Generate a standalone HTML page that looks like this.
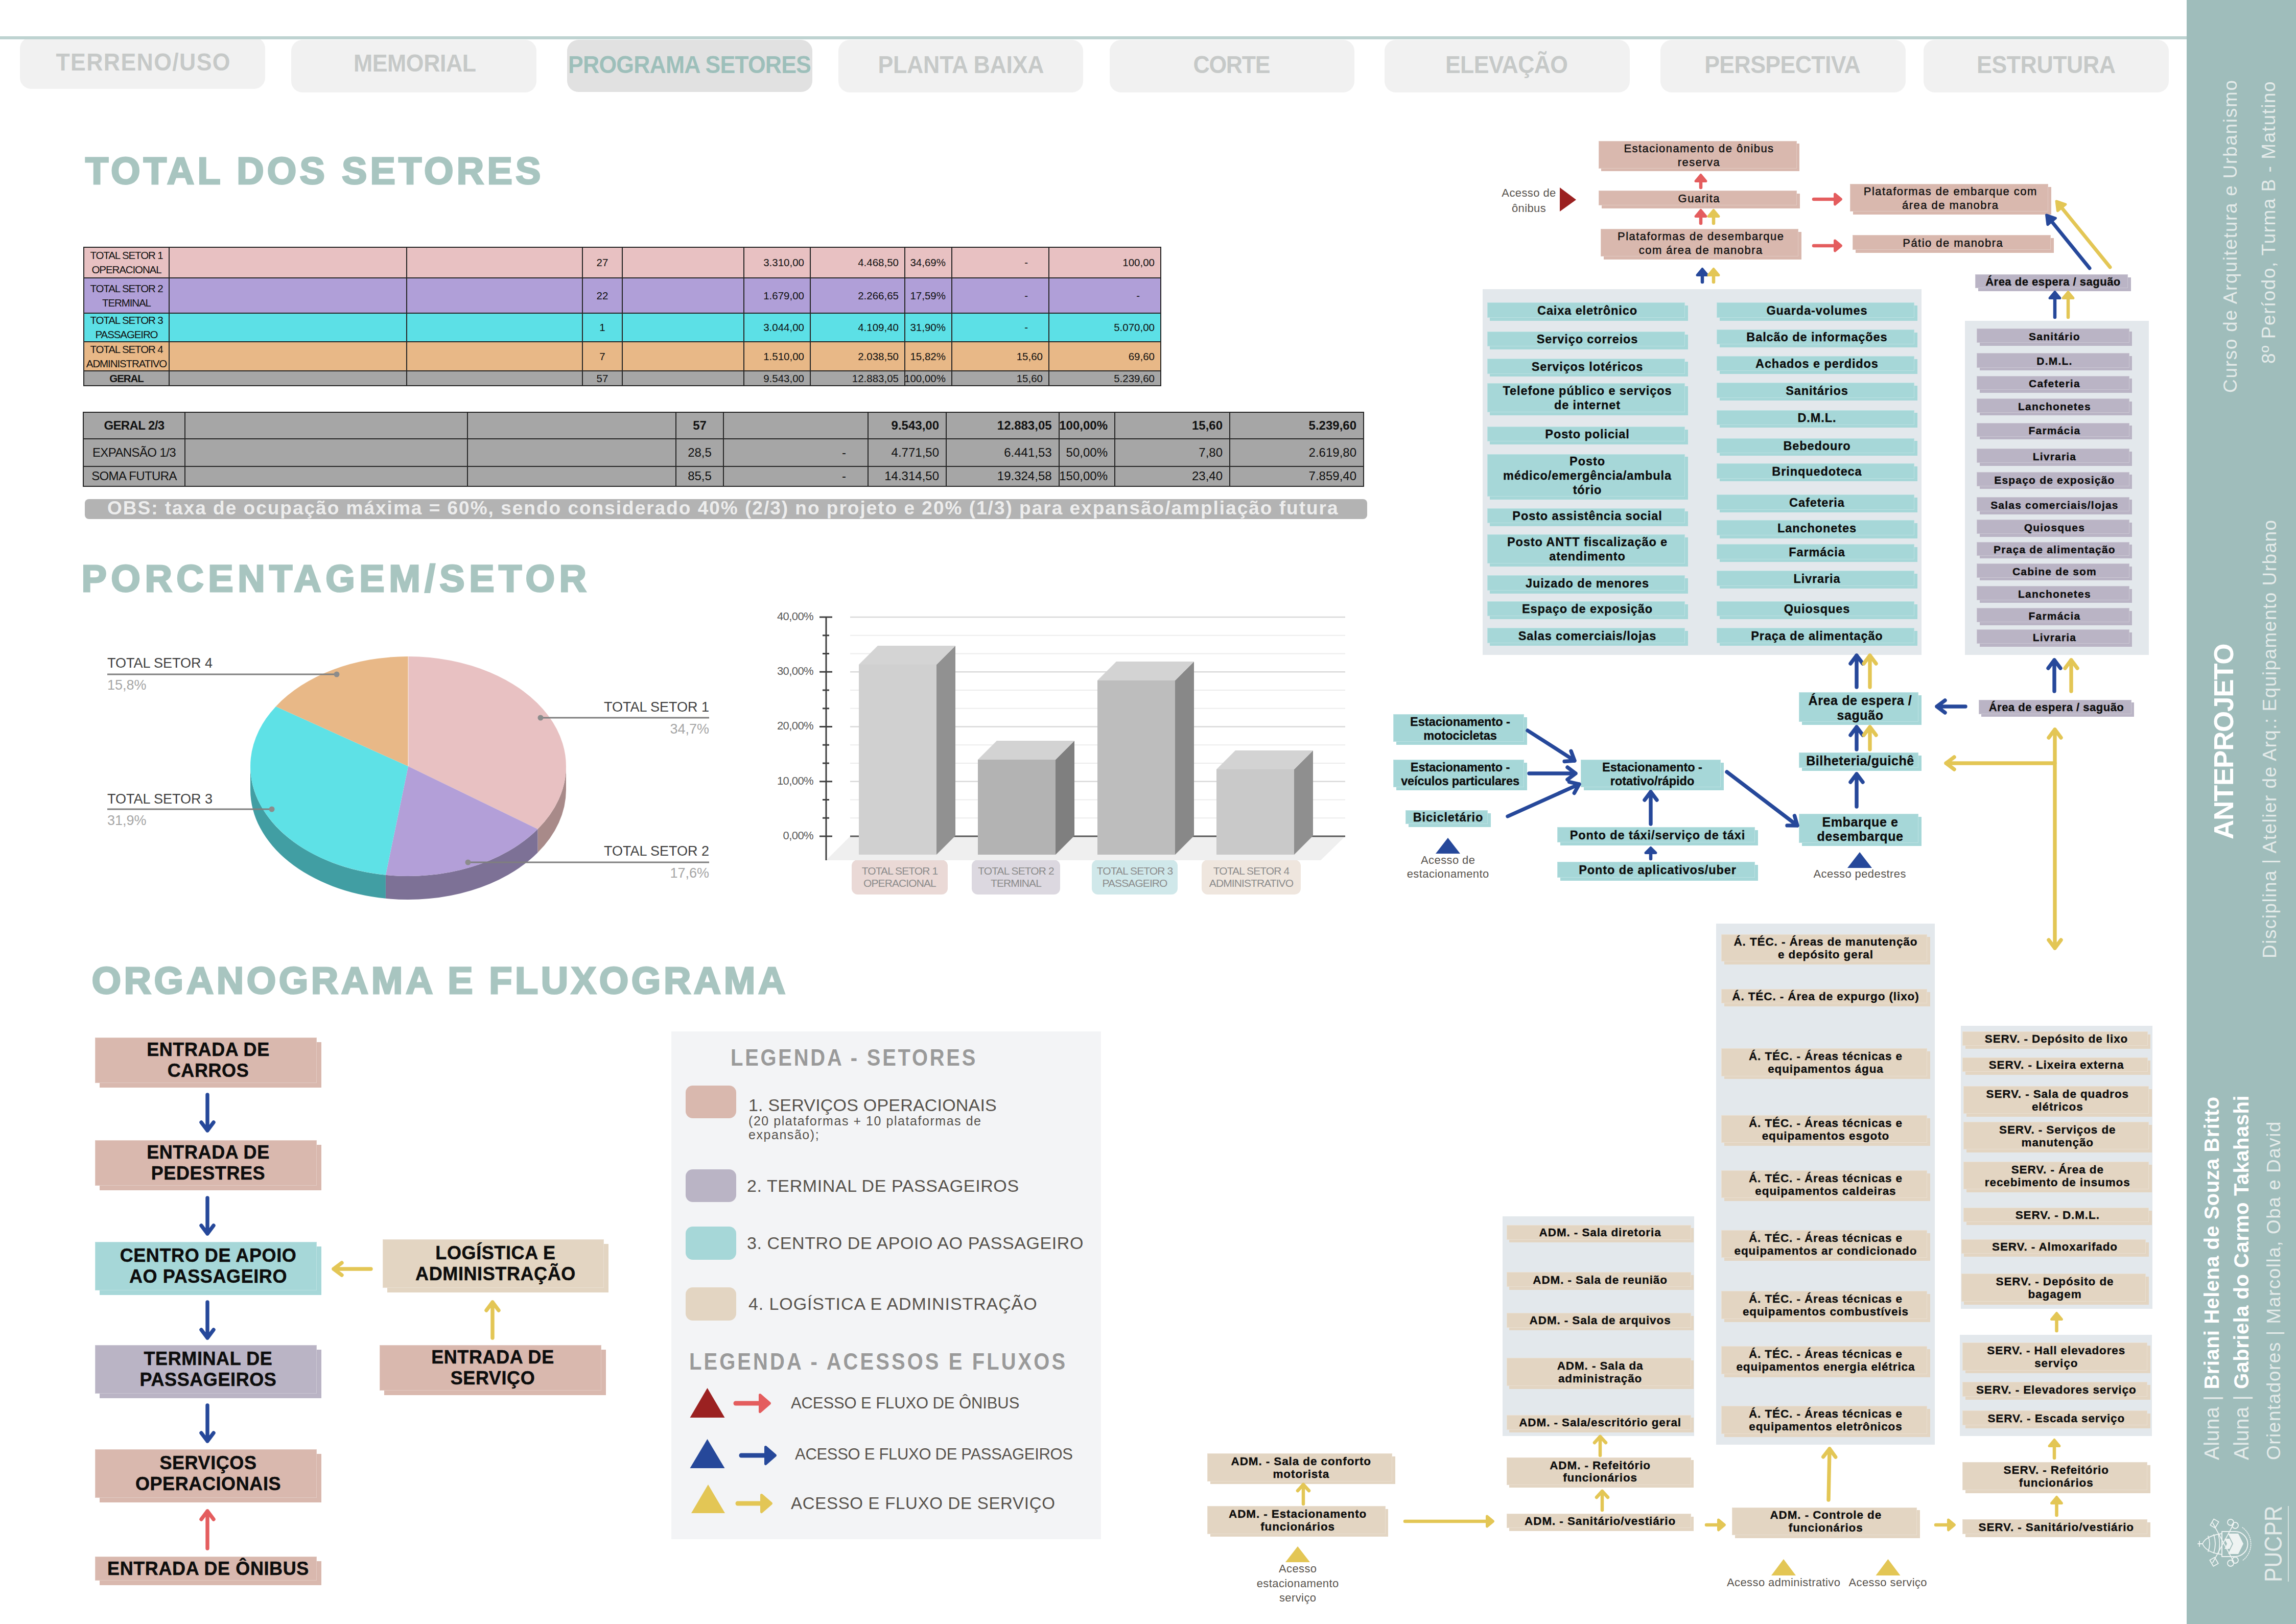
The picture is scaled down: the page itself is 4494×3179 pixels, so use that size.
<!DOCTYPE html><html><head><meta charset="utf-8"><style>
*{margin:0;padding:0;box-sizing:border-box}
html,body{width:4494px;height:3179px;overflow:hidden;background:#fff}
body{font-family:"Liberation Sans",sans-serif;position:relative}
#r>div{position:absolute}
.f{display:flex;align-items:center;justify-content:center;text-align:center}
.t{white-space:nowrap}
.b{font-weight:bold;color:#0d0d0d;letter-spacing:0.9px;white-space:nowrap;-webkit-text-stroke:0.35px #0d0d0d}
.md{white-space:nowrap;font-weight:normal;color:#111;letter-spacing:1.45px;-webkit-text-stroke:0.45px #111}
.ob{white-space:nowrap;font-weight:bold;color:#0d0d0d;letter-spacing:0.6px;-webkit-text-stroke:0.5px #0d0d0d;position:relative;top:-2px}
.tab{font-weight:bold;font-size:48px;white-space:nowrap}
.cell{display:flex;align-items:center;color:#111;line-height:1.36;white-space:nowrap}
.cat{font-size:21px;color:#8c8c8c;line-height:1.15;text-align:center;white-space:nowrap;letter-spacing:-0.9px}
svg{position:absolute;left:0;top:0}
</style></head><body><div id="r"><div class="f" style="left:39.0px;top:73.0px;width:480.0px;height:101.0px;background:#f1f1f1;border-radius:22px"></div>
<div class="t tab" style="left:-20.5px;width:600px;text-align:center;top:97.8px;line-height:1;color:#c6c9c8;letter-spacing:1.48px;text-indent:1.48px;transform:scaleX(0.93)">TERRENO/USO</div>
<div class="f" style="left:570.0px;top:78.0px;width:480.0px;height:103.0px;background:#f1f1f1;border-radius:22px"></div>
<div class="t tab" style="left:512px;width:600px;text-align:center;top:99.8px;line-height:1;color:#c6c9c8;letter-spacing:-0.43px;text-indent:-0.43px;transform:scaleX(0.93)">MEMORIAL</div>
<div class="f" style="left:1110.0px;top:78.0px;width:480.0px;height:102.0px;background:#e1e1e1;border-radius:22px"></div>
<div class="t tab" style="left:1050px;width:600px;text-align:center;top:102.8px;line-height:1;color:#9dbfba;letter-spacing:-0.92px;text-indent:-0.92px;transform:scaleX(0.93)">PROGRAMA SETORES</div>
<div class="f" style="left:1641.0px;top:78.0px;width:479.0px;height:103.0px;background:#f1f1f1;border-radius:22px"></div>
<div class="t tab" style="left:1581.4px;width:600px;text-align:center;top:102.8px;line-height:1;color:#c6c9c8;letter-spacing:-0.22px;text-indent:-0.22px;transform:scaleX(0.93)">PLANTA BAIXA</div>
<div class="f" style="left:2172.0px;top:78.0px;width:479.0px;height:103.0px;background:#f1f1f1;border-radius:22px"></div>
<div class="t tab" style="left:2111px;width:600px;text-align:center;top:102.8px;line-height:1;color:#c6c9c8;letter-spacing:-1.4px;text-indent:-1.4px;transform:scaleX(0.93)">CORTE</div>
<div class="f" style="left:2710.0px;top:78.0px;width:480.0px;height:103.0px;background:#f1f1f1;border-radius:22px"></div>
<div class="t tab" style="left:2649px;width:600px;text-align:center;top:102.8px;line-height:1;color:#c6c9c8;letter-spacing:-0.71px;text-indent:-0.71px;transform:scaleX(0.93)">ELEVAÇÃO</div>
<div class="f" style="left:3250.0px;top:78.0px;width:480.0px;height:103.0px;background:#f1f1f1;border-radius:22px"></div>
<div class="t tab" style="left:3188.8px;width:600px;text-align:center;top:102.8px;line-height:1;color:#c6c9c8;letter-spacing:-0.65px;text-indent:-0.65px;transform:scaleX(0.93)">PERSPECTIVA</div>
<div class="f" style="left:3765.0px;top:78.0px;width:480.0px;height:103.0px;background:#f1f1f1;border-radius:22px"></div>
<div class="t tab" style="left:3704.6px;width:600px;text-align:center;top:102.8px;line-height:1;color:#c6c9c8;letter-spacing:-0.45px;text-indent:-0.45px;transform:scaleX(0.93)">ESTRUTURA</div>
<div class="f" style="left:0.0px;top:71.0px;width:4280.0px;height:6.0px;background:#bed3d1"></div>
<div class="f" style="left:4280.0px;top:0.0px;width:214.0px;height:3179.0px;background:#9fbdbb"></div>
<div class="t" style="left:167.0px;top:297.8px;font-size:74px;line-height:1;color:#a8c5c0;font-weight:bold;letter-spacing:6.2px;-webkit-text-stroke:3px #a8c5c0">TOTAL DOS SETORES</div>
<div class="t" style="left:159.5px;top:1096.1px;font-size:74px;line-height:1;color:#a8c5c0;font-weight:bold;letter-spacing:8.5px;-webkit-text-stroke:3px #a8c5c0">PORCENTAGEM/SETOR</div>
<div class="t" style="left:179.5px;top:1883.0px;font-size:74px;line-height:1;color:#a8c5c0;font-weight:bold;letter-spacing:5.54px;-webkit-text-stroke:3px #a8c5c0">ORGANOGRAMA E FLUXOGRAMA</div>
<div class="f" style="left:164.0px;top:484.0px;width:2108.0px;height:60.0px;background:#e8c1c2"></div>
<div class="f" style="left:164.0px;top:544.0px;width:2108.0px;height:69.0px;background:#b09fd8"></div>
<div class="f" style="left:164.0px;top:613.0px;width:2108.0px;height:56.0px;background:#5ce0e6"></div>
<div class="f" style="left:164.0px;top:669.0px;width:2108.0px;height:57.0px;background:#e8b887"></div>
<div class="f" style="left:164.0px;top:726.0px;width:2108.0px;height:29.0px;background:#a6a6a6"></div>
<div class="cell" style="left:164.0px;top:484.0px;width:167.0px;height:60.0px;justify-content:center;text-align:center;font-size:20.5px;font-weight:normal;padding:0 12px;letter-spacing:-1.1px">TOTAL SETOR 1<br>OPERACIONAL</div>
<div class="cell" style="left:1140.0px;top:484.0px;width:78.0px;height:60.0px;justify-content:center;text-align:center;font-size:20.5px;font-weight:normal;padding:0 12px;letter-spacing:0px">27</div>
<div class="cell" style="left:1456.0px;top:484.0px;width:130.0px;height:60.0px;justify-content:flex-end;text-align:right;font-size:20.5px;font-weight:normal;padding:0 12px;letter-spacing:0px">3.310,00</div>
<div class="cell" style="left:1586.0px;top:484.0px;width:185.0px;height:60.0px;justify-content:flex-end;text-align:right;font-size:20.5px;font-weight:normal;padding:0 12px;letter-spacing:0px">4.468,50</div>
<div class="cell" style="left:1771.0px;top:484.0px;width:92.0px;height:60.0px;justify-content:flex-end;text-align:right;font-size:20.5px;font-weight:normal;padding:0 12px;letter-spacing:0px">34,69%</div>
<div class="cell" style="left:1863.0px;top:484.0px;width:190.0px;height:60.0px;justify-content:flex-end;text-align:right;font-size:20.5px;font-weight:normal;padding:0 41px;letter-spacing:0px">-</div>
<div class="cell" style="left:2053.0px;top:484.0px;width:219.0px;height:60.0px;justify-content:flex-end;text-align:right;font-size:20.5px;font-weight:normal;padding:0 12px;letter-spacing:0px">100,00</div>
<div class="cell" style="left:164.0px;top:544.0px;width:167.0px;height:69.0px;justify-content:center;text-align:center;font-size:20.5px;font-weight:normal;padding:0 12px;letter-spacing:-1.1px">TOTAL SETOR 2<br>TERMINAL</div>
<div class="cell" style="left:1140.0px;top:544.0px;width:78.0px;height:69.0px;justify-content:center;text-align:center;font-size:20.5px;font-weight:normal;padding:0 12px;letter-spacing:0px">22</div>
<div class="cell" style="left:1456.0px;top:544.0px;width:130.0px;height:69.0px;justify-content:flex-end;text-align:right;font-size:20.5px;font-weight:normal;padding:0 12px;letter-spacing:0px">1.679,00</div>
<div class="cell" style="left:1586.0px;top:544.0px;width:185.0px;height:69.0px;justify-content:flex-end;text-align:right;font-size:20.5px;font-weight:normal;padding:0 12px;letter-spacing:0px">2.266,65</div>
<div class="cell" style="left:1771.0px;top:544.0px;width:92.0px;height:69.0px;justify-content:flex-end;text-align:right;font-size:20.5px;font-weight:normal;padding:0 12px;letter-spacing:0px">17,59%</div>
<div class="cell" style="left:1863.0px;top:544.0px;width:190.0px;height:69.0px;justify-content:flex-end;text-align:right;font-size:20.5px;font-weight:normal;padding:0 41px;letter-spacing:0px">-</div>
<div class="cell" style="left:2053.0px;top:544.0px;width:219.0px;height:69.0px;justify-content:flex-end;text-align:right;font-size:20.5px;font-weight:normal;padding:0 41px;letter-spacing:0px">-</div>
<div class="cell" style="left:164.0px;top:613.0px;width:167.0px;height:56.0px;justify-content:center;text-align:center;font-size:20.5px;font-weight:normal;padding:0 12px;letter-spacing:-1.1px">TOTAL SETOR 3<br>PASSAGEIRO</div>
<div class="cell" style="left:1140.0px;top:613.0px;width:78.0px;height:56.0px;justify-content:center;text-align:center;font-size:20.5px;font-weight:normal;padding:0 12px;letter-spacing:0px">1</div>
<div class="cell" style="left:1456.0px;top:613.0px;width:130.0px;height:56.0px;justify-content:flex-end;text-align:right;font-size:20.5px;font-weight:normal;padding:0 12px;letter-spacing:0px">3.044,00</div>
<div class="cell" style="left:1586.0px;top:613.0px;width:185.0px;height:56.0px;justify-content:flex-end;text-align:right;font-size:20.5px;font-weight:normal;padding:0 12px;letter-spacing:0px">4.109,40</div>
<div class="cell" style="left:1771.0px;top:613.0px;width:92.0px;height:56.0px;justify-content:flex-end;text-align:right;font-size:20.5px;font-weight:normal;padding:0 12px;letter-spacing:0px">31,90%</div>
<div class="cell" style="left:1863.0px;top:613.0px;width:190.0px;height:56.0px;justify-content:flex-end;text-align:right;font-size:20.5px;font-weight:normal;padding:0 41px;letter-spacing:0px">-</div>
<div class="cell" style="left:2053.0px;top:613.0px;width:219.0px;height:56.0px;justify-content:flex-end;text-align:right;font-size:20.5px;font-weight:normal;padding:0 12px;letter-spacing:0px">5.070,00</div>
<div class="cell" style="left:164.0px;top:669.0px;width:167.0px;height:57.0px;justify-content:center;text-align:center;font-size:20.5px;font-weight:normal;padding:0 12px;letter-spacing:-1.1px">TOTAL SETOR 4<br>ADMINISTRATIVO</div>
<div class="cell" style="left:1140.0px;top:669.0px;width:78.0px;height:57.0px;justify-content:center;text-align:center;font-size:20.5px;font-weight:normal;padding:0 12px;letter-spacing:0px">7</div>
<div class="cell" style="left:1456.0px;top:669.0px;width:130.0px;height:57.0px;justify-content:flex-end;text-align:right;font-size:20.5px;font-weight:normal;padding:0 12px;letter-spacing:0px">1.510,00</div>
<div class="cell" style="left:1586.0px;top:669.0px;width:185.0px;height:57.0px;justify-content:flex-end;text-align:right;font-size:20.5px;font-weight:normal;padding:0 12px;letter-spacing:0px">2.038,50</div>
<div class="cell" style="left:1771.0px;top:669.0px;width:92.0px;height:57.0px;justify-content:flex-end;text-align:right;font-size:20.5px;font-weight:normal;padding:0 12px;letter-spacing:0px">15,82%</div>
<div class="cell" style="left:1863.0px;top:669.0px;width:190.0px;height:57.0px;justify-content:flex-end;text-align:right;font-size:20.5px;font-weight:normal;padding:0 12px;letter-spacing:0px">15,60</div>
<div class="cell" style="left:2053.0px;top:669.0px;width:219.0px;height:57.0px;justify-content:flex-end;text-align:right;font-size:20.5px;font-weight:normal;padding:0 12px;letter-spacing:0px">69,60</div>
<div class="cell" style="left:164.0px;top:726.0px;width:167.0px;height:29.0px;justify-content:center;text-align:center;font-size:20.5px;font-weight:normal;padding:0 12px;letter-spacing:-1.1px"><b>GERAL</b></div>
<div class="cell" style="left:1140.0px;top:726.0px;width:78.0px;height:29.0px;justify-content:center;text-align:center;font-size:20.5px;font-weight:normal;padding:0 12px;letter-spacing:0px">57</div>
<div class="cell" style="left:1456.0px;top:726.0px;width:130.0px;height:29.0px;justify-content:flex-end;text-align:right;font-size:20.5px;font-weight:normal;padding:0 12px;letter-spacing:0px">9.543,00</div>
<div class="cell" style="left:1586.0px;top:726.0px;width:185.0px;height:29.0px;justify-content:flex-end;text-align:right;font-size:20.5px;font-weight:normal;padding:0 12px;letter-spacing:0px">12.883,05</div>
<div class="cell" style="left:1771.0px;top:726.0px;width:92.0px;height:29.0px;justify-content:flex-end;text-align:right;font-size:20.5px;font-weight:normal;padding:0 12px;letter-spacing:0px">100,00%</div>
<div class="cell" style="left:1863.0px;top:726.0px;width:190.0px;height:29.0px;justify-content:flex-end;text-align:right;font-size:20.5px;font-weight:normal;padding:0 12px;letter-spacing:0px">15,60</div>
<div class="cell" style="left:2053.0px;top:726.0px;width:219.0px;height:29.0px;justify-content:flex-end;text-align:right;font-size:20.5px;font-weight:normal;padding:0 12px;letter-spacing:0px">5.239,60</div>
<div style="left:163.0px;top:483.0px;width:2px;height:273.0px;background:#262626"></div>
<div style="left:330.0px;top:483.0px;width:2px;height:273.0px;background:#262626"></div>
<div style="left:795.0px;top:483.0px;width:2px;height:273.0px;background:#262626"></div>
<div style="left:1139.0px;top:483.0px;width:2px;height:273.0px;background:#262626"></div>
<div style="left:1217.0px;top:483.0px;width:2px;height:273.0px;background:#262626"></div>
<div style="left:1455.0px;top:483.0px;width:2px;height:273.0px;background:#262626"></div>
<div style="left:1585.0px;top:483.0px;width:2px;height:273.0px;background:#262626"></div>
<div style="left:1770.0px;top:483.0px;width:2px;height:273.0px;background:#262626"></div>
<div style="left:1862.0px;top:483.0px;width:2px;height:273.0px;background:#262626"></div>
<div style="left:2052.0px;top:483.0px;width:2px;height:273.0px;background:#262626"></div>
<div style="left:2271.0px;top:483.0px;width:2px;height:273.0px;background:#262626"></div>
<div style="left:163.0px;top:483.0px;width:2110.0px;height:2px;background:#262626"></div>
<div style="left:163.0px;top:543.0px;width:2110.0px;height:2px;background:#262626"></div>
<div style="left:163.0px;top:612.0px;width:2110.0px;height:2px;background:#262626"></div>
<div style="left:163.0px;top:668.0px;width:2110.0px;height:2px;background:#262626"></div>
<div style="left:163.0px;top:725.0px;width:2110.0px;height:2px;background:#262626"></div>
<div style="left:163.0px;top:754.0px;width:2110.0px;height:2px;background:#262626"></div>
<div class="f" style="left:163.0px;top:807.0px;width:2506.0px;height:52.0px;background:#a6a6a6"></div>
<div class="f" style="left:163.0px;top:859.0px;width:2506.0px;height:54.0px;background:#a6a6a6"></div>
<div class="f" style="left:163.0px;top:913.0px;width:2506.0px;height:39.0px;background:#a6a6a6"></div>
<div class="cell" style="left:163.0px;top:807.0px;width:199.0px;height:52.0px;justify-content:center;text-align:center;font-size:24px;font-weight:bold;padding:0 14px;letter-spacing:-0.6px">GERAL 2/3</div>
<div class="cell" style="left:1323.0px;top:807.0px;width:93.0px;height:52.0px;justify-content:center;text-align:center;font-size:24px;font-weight:bold;padding:0 14px;letter-spacing:0px">57</div>
<div class="cell" style="left:1699.0px;top:807.0px;width:153.0px;height:52.0px;justify-content:flex-end;text-align:right;font-size:24px;font-weight:bold;padding:0 14px;letter-spacing:0px">9.543,00</div>
<div class="cell" style="left:1852.0px;top:807.0px;width:220.6px;height:52.0px;justify-content:flex-end;text-align:right;font-size:24px;font-weight:bold;padding:0 14px;letter-spacing:0px">12.883,05</div>
<div class="cell" style="left:2072.6px;top:807.0px;width:109.4px;height:52.0px;justify-content:flex-end;text-align:right;font-size:24px;font-weight:bold;padding:0 14px;letter-spacing:0px">100,00%</div>
<div class="cell" style="left:2182.0px;top:807.0px;width:225.0px;height:52.0px;justify-content:flex-end;text-align:right;font-size:24px;font-weight:bold;padding:0 14px;letter-spacing:0px">15,60</div>
<div class="cell" style="left:2407.0px;top:807.0px;width:262.0px;height:52.0px;justify-content:flex-end;text-align:right;font-size:24px;font-weight:bold;padding:0 14px;letter-spacing:0px">5.239,60</div>
<div class="cell" style="left:163.0px;top:859.0px;width:199.0px;height:54.0px;justify-content:center;text-align:center;font-size:24px;font-weight:normal;padding:0 14px;letter-spacing:-0.6px">EXPANSÃO 1/3</div>
<div class="cell" style="left:1323.0px;top:859.0px;width:93.0px;height:54.0px;justify-content:center;text-align:center;font-size:24px;font-weight:normal;padding:0 14px;letter-spacing:0px">28,5</div>
<div class="cell" style="left:1416.0px;top:859.0px;width:283.0px;height:54.0px;justify-content:flex-end;text-align:right;font-size:24px;font-weight:normal;padding:0 43px;letter-spacing:0px">-</div>
<div class="cell" style="left:1699.0px;top:859.0px;width:153.0px;height:54.0px;justify-content:flex-end;text-align:right;font-size:24px;font-weight:normal;padding:0 14px;letter-spacing:0px">4.771,50</div>
<div class="cell" style="left:1852.0px;top:859.0px;width:220.6px;height:54.0px;justify-content:flex-end;text-align:right;font-size:24px;font-weight:normal;padding:0 14px;letter-spacing:0px">6.441,53</div>
<div class="cell" style="left:2072.6px;top:859.0px;width:109.4px;height:54.0px;justify-content:flex-end;text-align:right;font-size:24px;font-weight:normal;padding:0 14px;letter-spacing:0px">50,00%</div>
<div class="cell" style="left:2182.0px;top:859.0px;width:225.0px;height:54.0px;justify-content:flex-end;text-align:right;font-size:24px;font-weight:normal;padding:0 14px;letter-spacing:0px">7,80</div>
<div class="cell" style="left:2407.0px;top:859.0px;width:262.0px;height:54.0px;justify-content:flex-end;text-align:right;font-size:24px;font-weight:normal;padding:0 14px;letter-spacing:0px">2.619,80</div>
<div class="cell" style="left:163.0px;top:913.0px;width:199.0px;height:39.0px;justify-content:center;text-align:center;font-size:24px;font-weight:normal;padding:0 14px;letter-spacing:-0.6px">SOMA FUTURA</div>
<div class="cell" style="left:1323.0px;top:913.0px;width:93.0px;height:39.0px;justify-content:center;text-align:center;font-size:24px;font-weight:normal;padding:0 14px;letter-spacing:0px">85,5</div>
<div class="cell" style="left:1416.0px;top:913.0px;width:283.0px;height:39.0px;justify-content:flex-end;text-align:right;font-size:24px;font-weight:normal;padding:0 43px;letter-spacing:0px">-</div>
<div class="cell" style="left:1699.0px;top:913.0px;width:153.0px;height:39.0px;justify-content:flex-end;text-align:right;font-size:24px;font-weight:normal;padding:0 14px;letter-spacing:0px">14.314,50</div>
<div class="cell" style="left:1852.0px;top:913.0px;width:220.6px;height:39.0px;justify-content:flex-end;text-align:right;font-size:24px;font-weight:normal;padding:0 14px;letter-spacing:0px">19.324,58</div>
<div class="cell" style="left:2072.6px;top:913.0px;width:109.4px;height:39.0px;justify-content:flex-end;text-align:right;font-size:24px;font-weight:normal;padding:0 14px;letter-spacing:0px">150,00%</div>
<div class="cell" style="left:2182.0px;top:913.0px;width:225.0px;height:39.0px;justify-content:flex-end;text-align:right;font-size:24px;font-weight:normal;padding:0 14px;letter-spacing:0px">23,40</div>
<div class="cell" style="left:2407.0px;top:913.0px;width:262.0px;height:39.0px;justify-content:flex-end;text-align:right;font-size:24px;font-weight:normal;padding:0 14px;letter-spacing:0px">7.859,40</div>
<div style="left:162.0px;top:806.0px;width:2px;height:147.0px;background:#262626"></div>
<div style="left:361.0px;top:806.0px;width:2px;height:147.0px;background:#262626"></div>
<div style="left:914.0px;top:806.0px;width:2px;height:147.0px;background:#262626"></div>
<div style="left:1322.0px;top:806.0px;width:2px;height:147.0px;background:#262626"></div>
<div style="left:1415.0px;top:806.0px;width:2px;height:147.0px;background:#262626"></div>
<div style="left:1698.0px;top:806.0px;width:2px;height:147.0px;background:#262626"></div>
<div style="left:1851.0px;top:806.0px;width:2px;height:147.0px;background:#262626"></div>
<div style="left:2071.6px;top:806.0px;width:2px;height:147.0px;background:#262626"></div>
<div style="left:2181.0px;top:806.0px;width:2px;height:147.0px;background:#262626"></div>
<div style="left:2406.0px;top:806.0px;width:2px;height:147.0px;background:#262626"></div>
<div style="left:2668.0px;top:806.0px;width:2px;height:147.0px;background:#262626"></div>
<div style="left:162.0px;top:806.0px;width:2508.0px;height:2px;background:#262626"></div>
<div style="left:162.0px;top:858.0px;width:2508.0px;height:2px;background:#262626"></div>
<div style="left:162.0px;top:912.0px;width:2508.0px;height:2px;background:#262626"></div>
<div style="left:162.0px;top:951.0px;width:2508.0px;height:2px;background:#262626"></div>
<div class="f" style="left:166.0px;top:977.0px;width:2510.0px;height:39.0px;background:#b3b3b3;border-radius:8px"><span style="position:absolute;left:44px;top:-3px;font-size:37px;font-weight:bold;color:#ededed;white-space:nowrap;letter-spacing:2.0px">OBS: taxa de ocupação máxima = 60%, sendo considerado 40% (2/3) no projeto e 20% (1/3) para expansão/ampliação futura</span></div>
<div class="t" style="left:210.0px;top:1283.0px;font-size:27px;color:#404040;white-space:nowrap">TOTAL SETOR 4</div>
<div class="t" style="left:210.0px;top:1326.0px;font-size:27px;color:#a6a6a6;white-space:nowrap">15,8%</div>
<div class="t" style="left:210.0px;top:1549.0px;font-size:27px;color:#404040;white-space:nowrap">TOTAL SETOR 3</div>
<div class="t" style="left:210.0px;top:1591.0px;font-size:27px;color:#a6a6a6;white-space:nowrap">31,9%</div>
<div class="t" style="left:1000px;width:388px;text-align:right;top:1369px;font-size:27px;color:#404040;white-space:nowrap">TOTAL SETOR 1</div>
<div class="t" style="left:1000px;width:388px;text-align:right;top:1412px;font-size:27px;color:#a6a6a6;white-space:nowrap">34,7%</div>
<div class="t" style="left:1000px;width:388px;text-align:right;top:1651px;font-size:27px;color:#404040;white-space:nowrap">TOTAL SETOR 2</div>
<div class="t" style="left:1000px;width:388px;text-align:right;top:1694px;font-size:27px;color:#a6a6a6;white-space:nowrap">17,6%</div>
<div class="t" style="left:1450px;width:142px;text-align:right;top:1194px;font-size:22px;color:#595959;letter-spacing:-0.6px">40,00%</div>
<div class="t" style="left:1450px;width:142px;text-align:right;top:1301px;font-size:22px;color:#595959;letter-spacing:-0.6px">30,00%</div>
<div class="t" style="left:1450px;width:142px;text-align:right;top:1408px;font-size:22px;color:#595959;letter-spacing:-0.6px">20,00%</div>
<div class="t" style="left:1450px;width:142px;text-align:right;top:1516px;font-size:22px;color:#595959;letter-spacing:-0.6px">10,00%</div>
<div class="t" style="left:1450px;width:142px;text-align:right;top:1623px;font-size:22px;color:#595959;letter-spacing:-0.6px">0,00%</div>
<div class="f" style="left:1667.0px;top:1683.0px;width:188.0px;height:68.0px;background:#ead9d6;border-radius:12px"><span class="cat">TOTAL SETOR 1<br>OPERACIONAL</span></div>
<div class="f" style="left:1902.0px;top:1683.0px;width:173.0px;height:68.0px;background:#dcd8e0;border-radius:12px"><span class="cat">TOTAL SETOR 2<br>TERMINAL</span></div>
<div class="f" style="left:2137.0px;top:1683.0px;width:168.0px;height:68.0px;background:#d0e8ea;border-radius:12px"><span class="cat">TOTAL SETOR 3<br>PASSAGEIRO</span></div>
<div class="f" style="left:2352.0px;top:1683.0px;width:194.0px;height:68.0px;background:#efe6de;border-radius:12px"><span class="cat">TOTAL SETOR 4<br>ADMINISTRATIVO</span></div>
<div class="f" style="left:195.0px;top:2040.0px;width:434.0px;height:89.0px;background:#d9b8ae"></div>
<div class="f" style="left:186.0px;top:2031.0px;width:434.0px;height:89.0px;background:#d9b8ae;box-shadow:inset 0 0 0 1px rgba(255,255,255,0.25);padding-left:9px;padding-top:5.4px"><span class="ob" style="font-size:36px;line-height:1.133;">ENTRADA DE<br>CARROS</span></div>
<div class="f" style="left:195.0px;top:2241.0px;width:434.0px;height:89.0px;background:#d9b8ae"></div>
<div class="f" style="left:186.0px;top:2232.0px;width:434.0px;height:89.0px;background:#d9b8ae;box-shadow:inset 0 0 0 1px rgba(255,255,255,0.25);padding-left:9px;padding-top:5.4px"><span class="ob" style="font-size:36px;line-height:1.133;">ENTRADA DE<br>PEDESTRES</span></div>
<div class="f" style="left:195.0px;top:2440.0px;width:434.0px;height:95.0px;background:#a6d7d8"></div>
<div class="f" style="left:186.0px;top:2431.0px;width:434.0px;height:95.0px;background:#a6d7d8;box-shadow:inset 0 0 0 1px rgba(255,255,255,0.25);padding-left:9px;padding-top:5.4px"><span class="ob" style="font-size:36px;line-height:1.133;">CENTRO DE APOIO<br>AO PASSAGEIRO</span></div>
<div class="f" style="left:195.0px;top:2642.0px;width:434.0px;height:95.0px;background:#bab4c5"></div>
<div class="f" style="left:186.0px;top:2633.0px;width:434.0px;height:95.0px;background:#bab4c5;box-shadow:inset 0 0 0 1px rgba(255,255,255,0.25);padding-left:9px;padding-top:5.4px"><span class="ob" style="font-size:36px;line-height:1.133;">TERMINAL DE<br>PASSAGEIROS</span></div>
<div class="f" style="left:195.0px;top:2846.0px;width:434.0px;height:95.0px;background:#d9b8ae"></div>
<div class="f" style="left:186.0px;top:2837.0px;width:434.0px;height:95.0px;background:#d9b8ae;box-shadow:inset 0 0 0 1px rgba(255,255,255,0.25);padding-left:9px;padding-top:5.4px"><span class="ob" style="font-size:36px;line-height:1.133;">SERVIÇOS<br>OPERACIONAIS</span></div>
<div class="f" style="left:195.0px;top:3056.0px;width:434.0px;height:47.0px;background:#d9b8ae"></div>
<div class="f" style="left:186.0px;top:3047.0px;width:434.0px;height:47.0px;background:#d9b8ae;box-shadow:inset 0 0 0 1px rgba(255,255,255,0.25);padding-left:9px;padding-top:5.4px"><span class="ob" style="font-size:36px;line-height:1.133;">ENTRADA DE ÔNIBUS</span></div>
<div class="f" style="left:758.0px;top:2435.0px;width:433.0px;height:95.0px;background:#e3d5c2"></div>
<div class="f" style="left:749.0px;top:2426.0px;width:433.0px;height:95.0px;background:#e3d5c2;box-shadow:inset 0 0 0 1px rgba(255,255,255,0.25);padding-left:9px;padding-top:5.4px"><span class="ob" style="font-size:36px;line-height:1.133;">LOGÍSTICA E<br>ADMINISTRAÇÃO</span></div>
<div class="f" style="left:752.0px;top:2642.0px;width:434.0px;height:89.0px;background:#d9b8ae"></div>
<div class="f" style="left:743.0px;top:2633.0px;width:434.0px;height:89.0px;background:#d9b8ae;box-shadow:inset 0 0 0 1px rgba(255,255,255,0.25);padding-left:9px;padding-top:5.4px"><span class="ob" style="font-size:36px;line-height:1.133;">ENTRADA DE<br>SERVIÇO</span></div>
<div class="f" style="left:1314.0px;top:2019.0px;width:841.0px;height:994.0px;background:#f3f4f6"></div>
<div class="t" style="left:1430.0px;top:2046.1px;font-size:47px;letter-spacing:4.4px;font-weight:bold;color:#9a9a9a;white-space:nowrap;line-height:1;transform-origin:0 0;transform:scaleX(0.85)">LEGENDA - SETORES</div>
<div class="f" style="left:1342.0px;top:2125.0px;width:99.0px;height:64.0px;background:#d9b8ae;border-radius:14px"></div>
<div class="f" style="left:1342.0px;top:2289.0px;width:99.0px;height:64.0px;background:#bab4c5;border-radius:14px"></div>
<div class="f" style="left:1342.0px;top:2401.0px;width:99.0px;height:65.0px;background:#a6d7d8;border-radius:14px"></div>
<div class="f" style="left:1342.0px;top:2520.0px;width:99.0px;height:65.0px;background:#e3d5c2;border-radius:14px"></div>
<div class="t" style="left:1465.0px;top:2145.6px;font-size:34px;letter-spacing:0.2px;color:#57524c;white-space:nowrap;line-height:1">1. SERVIÇOS OPERACIONAIS</div>
<div class="t" style="left:1465.0px;top:2182.0px;font-size:25px;letter-spacing:1.55px;color:#57524c;white-space:nowrap;line-height:1">(20 plataformas + 10 plataformas de</div>
<div class="t" style="left:1465.0px;top:2209.0px;font-size:25px;letter-spacing:1.55px;color:#57524c;white-space:nowrap;line-height:1">expansão);</div>
<div class="t" style="left:1462.0px;top:2303.6px;font-size:34px;letter-spacing:0.6px;color:#57524c;white-space:nowrap;line-height:1">2. TERMINAL DE PASSAGEIROS</div>
<div class="t" style="left:1462.0px;top:2415.6px;font-size:34px;letter-spacing:0.6px;color:#57524c;white-space:nowrap;line-height:1">3. CENTRO DE APOIO AO PASSAGEIRO</div>
<div class="t" style="left:1465.0px;top:2534.6px;font-size:34px;letter-spacing:0.9px;color:#57524c;white-space:nowrap;line-height:1">4. LOGÍSTICA E ADMINISTRAÇÃO</div>
<div class="t" style="left:1349.0px;top:2641.1px;font-size:47px;letter-spacing:4.8px;font-weight:bold;color:#9a9a9a;white-space:nowrap;line-height:1;transform-origin:0 0;transform:scaleX(0.85)">LEGENDA - ACESSOS E FLUXOS</div>
<div class="t" style="left:1548.0px;top:2731.1px;font-size:31px;letter-spacing:-0.1px;color:#57524c;white-space:nowrap;line-height:1">ACESSO E FLUXO DE ÔNIBUS</div>
<div class="t" style="left:1556.0px;top:2831.1px;font-size:31px;letter-spacing:-0.3px;color:#57524c;white-space:nowrap;line-height:1">ACESSO E FLUXO DE PASSAGEIROS</div>
<div class="t" style="left:1548.0px;top:2925.8px;font-size:33px;letter-spacing:0.7px;color:#57524c;white-space:nowrap;line-height:1">ACESSO E FLUXO DE SERVIÇO</div>
<div class="f" style="left:3134.0px;top:281.0px;width:388.0px;height:54.0px;background:#d9b8ae"></div>
<div class="f" style="left:3129.0px;top:276.0px;width:388.0px;height:54.0px;background:#d9b8ae;box-shadow:inset 0 0 0 1px rgba(255,255,255,0.25);padding-left:5px;padding-top:3.0px"><span class="md" style="font-size:22px;line-height:1.19;">Estacionamento de ônibus<br>reserva</span></div>
<div class="f" style="left:3134.5px;top:378.5px;width:388.0px;height:29.0px;background:#d9b8ae"></div>
<div class="f" style="left:3129.0px;top:373.0px;width:388.0px;height:29.0px;background:#d9b8ae;box-shadow:inset 0 0 0 1px rgba(255,255,255,0.25);padding-left:5.5px;padding-top:3.3px"><span class="md" style="font-size:22px;line-height:1.19;">Guarita</span></div>
<div class="f" style="left:3138.5px;top:453.5px;width:387.0px;height:54.0px;background:#d9b8ae"></div>
<div class="f" style="left:3133.0px;top:448.0px;width:387.0px;height:54.0px;background:#d9b8ae;box-shadow:inset 0 0 0 1px rgba(255,255,255,0.25);padding-left:5.5px;padding-top:3.3px"><span class="md" style="font-size:22px;line-height:1.19;">Plataformas de desembarque<br>com área de manobra</span></div>
<div class="f" style="left:3626.5px;top:365.5px;width:388.0px;height:54.0px;background:#d9b8ae"></div>
<div class="f" style="left:3621.0px;top:360.0px;width:388.0px;height:54.0px;background:#d9b8ae;box-shadow:inset 0 0 0 1px rgba(255,255,255,0.25);padding-left:5.5px;padding-top:3.3px"><span class="md" style="font-size:22px;line-height:1.19;">Plataformas de embarque com<br>área de manobra</span></div>
<div class="f" style="left:3631.5px;top:465.5px;width:388.0px;height:29.0px;background:#d9b8ae"></div>
<div class="f" style="left:3626.0px;top:460.0px;width:388.0px;height:29.0px;background:#d9b8ae;box-shadow:inset 0 0 0 1px rgba(255,255,255,0.25);padding-left:5.5px;padding-top:3.3px"><span class="md" style="font-size:22px;line-height:1.19;">Pátio de manobra</span></div>
<div class="t" style="left:2935.0px;top:365.0px;font-size:22px;color:#5a554f;width:115px;text-align:center;white-space:nowrap;letter-spacing:0.4px">Acesso de</div>
<div class="t" style="left:2935.0px;top:394.5px;font-size:22px;color:#5a554f;width:115px;text-align:center;white-space:nowrap;letter-spacing:0.4px">ônibus</div>
<div class="f" style="left:3872.0px;top:543.0px;width:299.0px;height:27.0px;background:#bab4c5"></div>
<div class="f" style="left:3866.0px;top:537.0px;width:299.0px;height:27.0px;background:#bab4c5;box-shadow:inset 0 0 0 1px rgba(255,255,255,0.25);padding-left:6px;padding-top:3.6px"><span class="b" style="font-size:22px;line-height:1.1;letter-spacing:0.5px;">Área de espera / saguão</span></div>
<div class="f" style="left:2902.0px;top:566.0px;width:859.0px;height:716.0px;background:#e3e8ec"></div>
<div class="f" style="left:2916.0px;top:597.5px;width:387.5px;height:30.0px;background:#a6d7d8"></div>
<div class="f" style="left:2910.5px;top:592.0px;width:387.5px;height:30.0px;background:#a6d7d8;box-shadow:inset 0 0 0 1px rgba(255,255,255,0.25);padding-left:5.5px;padding-top:3.3px"><span class="b" style="font-size:23.5px;line-height:1.18;">Caixa eletrônico</span></div>
<div class="f" style="left:2916.0px;top:654.5px;width:387.5px;height:29.0px;background:#a6d7d8"></div>
<div class="f" style="left:2910.5px;top:649.0px;width:387.5px;height:29.0px;background:#a6d7d8;box-shadow:inset 0 0 0 1px rgba(255,255,255,0.25);padding-left:5.5px;padding-top:3.3px"><span class="b" style="font-size:23.5px;line-height:1.18;">Serviço correios</span></div>
<div class="f" style="left:2916.0px;top:707.5px;width:387.5px;height:29.5px;background:#a6d7d8"></div>
<div class="f" style="left:2910.5px;top:702.0px;width:387.5px;height:29.5px;background:#a6d7d8;box-shadow:inset 0 0 0 1px rgba(255,255,255,0.25);padding-left:5.5px;padding-top:3.3px"><span class="b" style="font-size:23.5px;line-height:1.18;">Serviços lotéricos</span></div>
<div class="f" style="left:2916.0px;top:755.5px;width:387.5px;height:57.0px;background:#a6d7d8"></div>
<div class="f" style="left:2910.5px;top:750.0px;width:387.5px;height:57.0px;background:#a6d7d8;box-shadow:inset 0 0 0 1px rgba(255,255,255,0.25);padding-left:5.5px;padding-top:3.3px"><span class="b" style="font-size:23.5px;line-height:1.18;">Telefone público e serviços<br>de internet</span></div>
<div class="f" style="left:2916.0px;top:840.5px;width:387.5px;height:29.0px;background:#a6d7d8"></div>
<div class="f" style="left:2910.5px;top:835.0px;width:387.5px;height:29.0px;background:#a6d7d8;box-shadow:inset 0 0 0 1px rgba(255,255,255,0.25);padding-left:5.5px;padding-top:3.3px"><span class="b" style="font-size:23.5px;line-height:1.18;">Posto policial</span></div>
<div class="f" style="left:2916.0px;top:894.0px;width:387.5px;height:83.5px;background:#a6d7d8"></div>
<div class="f" style="left:2910.5px;top:888.5px;width:387.5px;height:83.5px;background:#a6d7d8;box-shadow:inset 0 0 0 1px rgba(255,255,255,0.25);padding-left:5.5px;padding-top:3.3px"><span class="b" style="font-size:23.5px;line-height:1.18;">Posto<br>médico/emergência/ambula<br>tório</span></div>
<div class="f" style="left:2916.0px;top:1000.5px;width:387.5px;height:29.0px;background:#a6d7d8"></div>
<div class="f" style="left:2910.5px;top:995.0px;width:387.5px;height:29.0px;background:#a6d7d8;box-shadow:inset 0 0 0 1px rgba(255,255,255,0.25);padding-left:5.5px;padding-top:3.3px"><span class="b" style="font-size:23.5px;line-height:1.18;">Posto assistência social</span></div>
<div class="f" style="left:2916.0px;top:1051.5px;width:387.5px;height:57.0px;background:#a6d7d8"></div>
<div class="f" style="left:2910.5px;top:1046.0px;width:387.5px;height:57.0px;background:#a6d7d8;box-shadow:inset 0 0 0 1px rgba(255,255,255,0.25);padding-left:5.5px;padding-top:3.3px"><span class="b" style="font-size:23.5px;line-height:1.18;">Posto ANTT fiscalização e<br>atendimento</span></div>
<div class="f" style="left:2916.0px;top:1131.5px;width:387.5px;height:30.0px;background:#a6d7d8"></div>
<div class="f" style="left:2910.5px;top:1126.0px;width:387.5px;height:30.0px;background:#a6d7d8;box-shadow:inset 0 0 0 1px rgba(255,255,255,0.25);padding-left:5.5px;padding-top:3.3px"><span class="b" style="font-size:23.5px;line-height:1.18;">Juizado de menores</span></div>
<div class="f" style="left:2916.0px;top:1182.5px;width:387.5px;height:29.0px;background:#a6d7d8"></div>
<div class="f" style="left:2910.5px;top:1177.0px;width:387.5px;height:29.0px;background:#a6d7d8;box-shadow:inset 0 0 0 1px rgba(255,255,255,0.25);padding-left:5.5px;padding-top:3.3px"><span class="b" style="font-size:23.5px;line-height:1.18;">Espaço de exposição</span></div>
<div class="f" style="left:2916.0px;top:1234.5px;width:387.5px;height:29.5px;background:#a6d7d8"></div>
<div class="f" style="left:2910.5px;top:1229.0px;width:387.5px;height:29.5px;background:#a6d7d8;box-shadow:inset 0 0 0 1px rgba(255,255,255,0.25);padding-left:5.5px;padding-top:3.3px"><span class="b" style="font-size:23.5px;line-height:1.18;">Salas comerciais/lojas</span></div>
<div class="f" style="left:3365.5px;top:597.5px;width:387.4px;height:30.0px;background:#a6d7d8"></div>
<div class="f" style="left:3360.0px;top:592.0px;width:387.4px;height:30.0px;background:#a6d7d8;box-shadow:inset 0 0 0 1px rgba(255,255,255,0.25);padding-left:5.5px;padding-top:3.3px"><span class="b" style="font-size:23.5px;line-height:1.18;">Guarda-volumes</span></div>
<div class="f" style="left:3365.5px;top:650.5px;width:387.4px;height:29.0px;background:#a6d7d8"></div>
<div class="f" style="left:3360.0px;top:645.0px;width:387.4px;height:29.0px;background:#a6d7d8;box-shadow:inset 0 0 0 1px rgba(255,255,255,0.25);padding-left:5.5px;padding-top:3.3px"><span class="b" style="font-size:23.5px;line-height:1.18;">Balcão de informações</span></div>
<div class="f" style="left:3365.5px;top:702.5px;width:387.4px;height:29.0px;background:#a6d7d8"></div>
<div class="f" style="left:3360.0px;top:697.0px;width:387.4px;height:29.0px;background:#a6d7d8;box-shadow:inset 0 0 0 1px rgba(255,255,255,0.25);padding-left:5.5px;padding-top:3.3px"><span class="b" style="font-size:23.5px;line-height:1.18;">Achados e perdidos</span></div>
<div class="f" style="left:3365.5px;top:754.5px;width:387.4px;height:29.6px;background:#a6d7d8"></div>
<div class="f" style="left:3360.0px;top:749.0px;width:387.4px;height:29.6px;background:#a6d7d8;box-shadow:inset 0 0 0 1px rgba(255,255,255,0.25);padding-left:5.5px;padding-top:3.3px"><span class="b" style="font-size:23.5px;line-height:1.18;">Sanitários</span></div>
<div class="f" style="left:3365.5px;top:808.1px;width:387.4px;height:29.4px;background:#a6d7d8"></div>
<div class="f" style="left:3360.0px;top:802.6px;width:387.4px;height:29.4px;background:#a6d7d8;box-shadow:inset 0 0 0 1px rgba(255,255,255,0.25);padding-left:5.5px;padding-top:3.3px"><span class="b" style="font-size:23.5px;line-height:1.18;">D.M.L.</span></div>
<div class="f" style="left:3365.5px;top:863.1px;width:387.4px;height:29.4px;background:#a6d7d8"></div>
<div class="f" style="left:3360.0px;top:857.6px;width:387.4px;height:29.4px;background:#a6d7d8;box-shadow:inset 0 0 0 1px rgba(255,255,255,0.25);padding-left:5.5px;padding-top:3.3px"><span class="b" style="font-size:23.5px;line-height:1.18;">Bebedouro</span></div>
<div class="f" style="left:3365.5px;top:912.5px;width:387.4px;height:29.6px;background:#a6d7d8"></div>
<div class="f" style="left:3360.0px;top:907.0px;width:387.4px;height:29.6px;background:#a6d7d8;box-shadow:inset 0 0 0 1px rgba(255,255,255,0.25);padding-left:5.5px;padding-top:3.3px"><span class="b" style="font-size:23.5px;line-height:1.18;">Brinquedoteca</span></div>
<div class="f" style="left:3365.5px;top:973.5px;width:387.4px;height:29.5px;background:#a6d7d8"></div>
<div class="f" style="left:3360.0px;top:968.0px;width:387.4px;height:29.5px;background:#a6d7d8;box-shadow:inset 0 0 0 1px rgba(255,255,255,0.25);padding-left:5.5px;padding-top:3.3px"><span class="b" style="font-size:23.5px;line-height:1.18;">Cafeteria</span></div>
<div class="f" style="left:3365.5px;top:1023.5px;width:387.4px;height:30.0px;background:#a6d7d8"></div>
<div class="f" style="left:3360.0px;top:1018.0px;width:387.4px;height:30.0px;background:#a6d7d8;box-shadow:inset 0 0 0 1px rgba(255,255,255,0.25);padding-left:5.5px;padding-top:3.3px"><span class="b" style="font-size:23.5px;line-height:1.18;">Lanchonetes</span></div>
<div class="f" style="left:3365.5px;top:1070.5px;width:387.4px;height:29.5px;background:#a6d7d8"></div>
<div class="f" style="left:3360.0px;top:1065.0px;width:387.4px;height:29.5px;background:#a6d7d8;box-shadow:inset 0 0 0 1px rgba(255,255,255,0.25);padding-left:5.5px;padding-top:3.3px"><span class="b" style="font-size:23.5px;line-height:1.18;">Farmácia</span></div>
<div class="f" style="left:3365.5px;top:1122.5px;width:387.4px;height:29.7px;background:#a6d7d8"></div>
<div class="f" style="left:3360.0px;top:1117.0px;width:387.4px;height:29.7px;background:#a6d7d8;box-shadow:inset 0 0 0 1px rgba(255,255,255,0.25);padding-left:5.5px;padding-top:3.3px"><span class="b" style="font-size:23.5px;line-height:1.18;">Livraria</span></div>
<div class="f" style="left:3365.5px;top:1182.5px;width:387.4px;height:29.0px;background:#a6d7d8"></div>
<div class="f" style="left:3360.0px;top:1177.0px;width:387.4px;height:29.0px;background:#a6d7d8;box-shadow:inset 0 0 0 1px rgba(255,255,255,0.25);padding-left:5.5px;padding-top:3.3px"><span class="b" style="font-size:23.5px;line-height:1.18;">Quiosques</span></div>
<div class="f" style="left:3365.5px;top:1234.5px;width:387.4px;height:29.5px;background:#a6d7d8"></div>
<div class="f" style="left:3360.0px;top:1229.0px;width:387.4px;height:29.5px;background:#a6d7d8;box-shadow:inset 0 0 0 1px rgba(255,255,255,0.25);padding-left:5.5px;padding-top:3.3px"><span class="b" style="font-size:23.5px;line-height:1.18;">Praça de alimentação</span></div>
<div class="f" style="left:3846.0px;top:628.0px;width:360.0px;height:654.0px;background:#e3e8ec"></div>
<div class="f" style="left:3874.9px;top:648.5px;width:298.6px;height:28.0px;background:#bab4c5"></div>
<div class="f" style="left:3869.4px;top:643.0px;width:298.6px;height:28.0px;background:#bab4c5;box-shadow:inset 0 0 0 1px rgba(255,255,255,0.25);padding-left:5.5px;padding-top:3.3px"><span class="b" style="font-size:21px;line-height:1.1;letter-spacing:1.2px;">Sanitário</span></div>
<div class="f" style="left:3874.9px;top:696.5px;width:298.6px;height:28.7px;background:#bab4c5"></div>
<div class="f" style="left:3869.4px;top:691.0px;width:298.6px;height:28.7px;background:#bab4c5;box-shadow:inset 0 0 0 1px rgba(255,255,255,0.25);padding-left:5.5px;padding-top:3.3px"><span class="b" style="font-size:21px;line-height:1.1;letter-spacing:1.2px;">D.M.L.</span></div>
<div class="f" style="left:3874.9px;top:741.0px;width:298.6px;height:27.5px;background:#bab4c5"></div>
<div class="f" style="left:3869.4px;top:735.5px;width:298.6px;height:27.5px;background:#bab4c5;box-shadow:inset 0 0 0 1px rgba(255,255,255,0.25);padding-left:5.5px;padding-top:3.3px"><span class="b" style="font-size:21px;line-height:1.1;letter-spacing:1.2px;">Cafeteria</span></div>
<div class="f" style="left:3874.9px;top:785.5px;width:298.6px;height:27.5px;background:#bab4c5"></div>
<div class="f" style="left:3869.4px;top:780.0px;width:298.6px;height:27.5px;background:#bab4c5;box-shadow:inset 0 0 0 1px rgba(255,255,255,0.25);padding-left:5.5px;padding-top:3.3px"><span class="b" style="font-size:21px;line-height:1.1;letter-spacing:1.2px;">Lanchonetes</span></div>
<div class="f" style="left:3874.9px;top:833.1px;width:298.6px;height:27.4px;background:#bab4c5"></div>
<div class="f" style="left:3869.4px;top:827.6px;width:298.6px;height:27.4px;background:#bab4c5;box-shadow:inset 0 0 0 1px rgba(255,255,255,0.25);padding-left:5.5px;padding-top:3.3px"><span class="b" style="font-size:21px;line-height:1.1;letter-spacing:1.2px;">Farmácia</span></div>
<div class="f" style="left:3874.9px;top:883.5px;width:298.6px;height:28.0px;background:#bab4c5"></div>
<div class="f" style="left:3869.4px;top:878.0px;width:298.6px;height:28.0px;background:#bab4c5;box-shadow:inset 0 0 0 1px rgba(255,255,255,0.25);padding-left:5.5px;padding-top:3.3px"><span class="b" style="font-size:21px;line-height:1.1;letter-spacing:1.2px;">Livraria</span></div>
<div class="f" style="left:3874.9px;top:929.2px;width:298.6px;height:28.3px;background:#bab4c5"></div>
<div class="f" style="left:3869.4px;top:923.7px;width:298.6px;height:28.3px;background:#bab4c5;box-shadow:inset 0 0 0 1px rgba(255,255,255,0.25);padding-left:5.5px;padding-top:3.3px"><span class="b" style="font-size:21px;line-height:1.1;letter-spacing:1.2px;">Espaço de exposição</span></div>
<div class="f" style="left:3874.9px;top:978.0px;width:298.6px;height:28.5px;background:#bab4c5"></div>
<div class="f" style="left:3869.4px;top:972.5px;width:298.6px;height:28.5px;background:#bab4c5;box-shadow:inset 0 0 0 1px rgba(255,255,255,0.25);padding-left:5.5px;padding-top:3.3px"><span class="b" style="font-size:21px;line-height:1.1;letter-spacing:1.2px;">Salas comerciais/lojas</span></div>
<div class="f" style="left:3874.9px;top:1022.5px;width:298.6px;height:28.0px;background:#bab4c5"></div>
<div class="f" style="left:3869.4px;top:1017.0px;width:298.6px;height:28.0px;background:#bab4c5;box-shadow:inset 0 0 0 1px rgba(255,255,255,0.25);padding-left:5.5px;padding-top:3.3px"><span class="b" style="font-size:21px;line-height:1.1;letter-spacing:1.2px;">Quiosques</span></div>
<div class="f" style="left:3874.9px;top:1066.2px;width:298.6px;height:27.3px;background:#bab4c5"></div>
<div class="f" style="left:3869.4px;top:1060.7px;width:298.6px;height:27.3px;background:#bab4c5;box-shadow:inset 0 0 0 1px rgba(255,255,255,0.25);padding-left:5.5px;padding-top:3.3px"><span class="b" style="font-size:21px;line-height:1.1;letter-spacing:1.2px;">Praça de alimentação</span></div>
<div class="f" style="left:3874.9px;top:1108.5px;width:298.6px;height:27.7px;background:#bab4c5"></div>
<div class="f" style="left:3869.4px;top:1103.0px;width:298.6px;height:27.7px;background:#bab4c5;box-shadow:inset 0 0 0 1px rgba(255,255,255,0.25);padding-left:5.5px;padding-top:3.3px"><span class="b" style="font-size:21px;line-height:1.1;letter-spacing:1.2px;">Cabine de som</span></div>
<div class="f" style="left:3874.9px;top:1152.9px;width:298.6px;height:27.6px;background:#bab4c5"></div>
<div class="f" style="left:3869.4px;top:1147.4px;width:298.6px;height:27.6px;background:#bab4c5;box-shadow:inset 0 0 0 1px rgba(255,255,255,0.25);padding-left:5.5px;padding-top:3.3px"><span class="b" style="font-size:21px;line-height:1.1;letter-spacing:1.2px;">Lanchonetes</span></div>
<div class="f" style="left:3874.9px;top:1195.5px;width:298.6px;height:28.0px;background:#bab4c5"></div>
<div class="f" style="left:3869.4px;top:1190.0px;width:298.6px;height:28.0px;background:#bab4c5;box-shadow:inset 0 0 0 1px rgba(255,255,255,0.25);padding-left:5.5px;padding-top:3.3px"><span class="b" style="font-size:21px;line-height:1.1;letter-spacing:1.2px;">Farmácia</span></div>
<div class="f" style="left:3874.9px;top:1237.5px;width:298.6px;height:28.0px;background:#bab4c5"></div>
<div class="f" style="left:3869.4px;top:1232.0px;width:298.6px;height:28.0px;background:#bab4c5;box-shadow:inset 0 0 0 1px rgba(255,255,255,0.25);padding-left:5.5px;padding-top:3.3px"><span class="b" style="font-size:21px;line-height:1.1;letter-spacing:1.2px;">Livraria</span></div>
<div class="f" style="left:2733.0px;top:1404.0px;width:256.0px;height:54.0px;background:#a6d7d8"></div>
<div class="f" style="left:2727.0px;top:1398.0px;width:256.0px;height:54.0px;background:#a6d7d8;box-shadow:inset 0 0 0 1px rgba(255,255,255,0.25);padding-left:6px;padding-top:3.6px"><span class="b" style="font-size:23.5px;line-height:1.15;letter-spacing:0px;">Estacionamento -<br>motocicletas</span></div>
<div class="f" style="left:2733.0px;top:1493.0px;width:256.0px;height:54.0px;background:#a6d7d8"></div>
<div class="f" style="left:2727.0px;top:1487.0px;width:256.0px;height:54.0px;background:#a6d7d8;box-shadow:inset 0 0 0 1px rgba(255,255,255,0.25);padding-left:6px;padding-top:3.6px"><span class="b" style="font-size:23.5px;line-height:1.15;letter-spacing:-0.1px;">Estacionamento -<br>veículos particulares</span></div>
<div class="f" style="left:2757.0px;top:1592.0px;width:161.0px;height:27.0px;background:#a6d7d8"></div>
<div class="f" style="left:2751.0px;top:1586.0px;width:161.0px;height:27.0px;background:#a6d7d8;box-shadow:inset 0 0 0 1px rgba(255,255,255,0.25);padding-left:6px;padding-top:3.6px"><span class="b" style="font-size:23.5px;line-height:1.1;">Bicicletário</span></div>
<div class="f" style="left:3100.0px;top:1493.0px;width:274.0px;height:54.0px;background:#a6d7d8"></div>
<div class="f" style="left:3094.0px;top:1487.0px;width:274.0px;height:54.0px;background:#a6d7d8;box-shadow:inset 0 0 0 1px rgba(255,255,255,0.25);padding-left:6px;padding-top:3.6px"><span class="b" style="font-size:23.5px;line-height:1.15;letter-spacing:0px;">Estacionamento -<br>rotativo/rápido</span></div>
<div class="f" style="left:3054.0px;top:1625.0px;width:387.0px;height:30.0px;background:#a6d7d8"></div>
<div class="f" style="left:3048.0px;top:1619.0px;width:387.0px;height:30.0px;background:#a6d7d8;box-shadow:inset 0 0 0 1px rgba(255,255,255,0.25);padding-left:6px;padding-top:3.6px"><span class="b" style="font-size:23.5px;line-height:1.1;">Ponto de táxi/serviço de táxi</span></div>
<div class="f" style="left:3054.0px;top:1693.0px;width:387.0px;height:31.0px;background:#a6d7d8"></div>
<div class="f" style="left:3048.0px;top:1687.0px;width:387.0px;height:31.0px;background:#a6d7d8;box-shadow:inset 0 0 0 1px rgba(255,255,255,0.25);padding-left:6px;padding-top:3.6px"><span class="b" style="font-size:23.5px;line-height:1.1;">Ponto de aplicativos/uber</span></div>
<div class="f" style="left:3527.0px;top:1361.0px;width:234.0px;height:58.0px;background:#a6d7d8"></div>
<div class="f" style="left:3521.0px;top:1355.0px;width:234.0px;height:58.0px;background:#a6d7d8;box-shadow:inset 0 0 0 1px rgba(255,255,255,0.25);padding-left:6px;padding-top:3.6px"><span class="b" style="font-size:25px;line-height:1.15;letter-spacing:0.6px;">Área de espera /<br>saguão</span></div>
<div class="f" style="left:3527.0px;top:1479.0px;width:234.0px;height:30.0px;background:#a6d7d8"></div>
<div class="f" style="left:3521.0px;top:1473.0px;width:234.0px;height:30.0px;background:#a6d7d8;box-shadow:inset 0 0 0 1px rgba(255,255,255,0.25);padding-left:6px;padding-top:3.6px"><span class="b" style="font-size:25px;line-height:1.1;letter-spacing:0.6px;">Bilheteria/guichê</span></div>
<div class="f" style="left:3527.0px;top:1599.0px;width:234.0px;height:57.0px;background:#a6d7d8"></div>
<div class="f" style="left:3521.0px;top:1593.0px;width:234.0px;height:57.0px;background:#a6d7d8;box-shadow:inset 0 0 0 1px rgba(255,255,255,0.25);padding-left:6px;padding-top:3.6px"><span class="b" style="font-size:25px;line-height:1.15;letter-spacing:0.6px;">Embarque e<br>desembarque</span></div>
<div class="t" style="left:2734px;width:200px;top:1671px;font-size:22px;color:#5a554f;text-align:center;white-space:nowrap;letter-spacing:0.4px;text-indent:0.4px">Acesso de</div>
<div class="t" style="left:2734px;width:200px;top:1698px;font-size:22px;color:#5a554f;text-align:center;white-space:nowrap;letter-spacing:0.4px;text-indent:0.4px">estacionamento</div>
<div class="t" style="left:3540px;width:200px;top:1698px;font-size:22px;color:#5a554f;text-align:center;white-space:nowrap;letter-spacing:0.4px;text-indent:0.4px">Acesso pedestres</div>
<div class="f" style="left:3878.0px;top:1375.0px;width:299.0px;height:28.0px;background:#bab4c5"></div>
<div class="f" style="left:3873.0px;top:1370.0px;width:299.0px;height:28.0px;background:#bab4c5;box-shadow:inset 0 0 0 1px rgba(255,255,255,0.25);padding-left:5px;padding-top:3.0px"><span class="b" style="font-size:22px;line-height:1.1;letter-spacing:0.5px;">Área de espera / saguão</span></div>
<div class="f" style="left:3359.0px;top:1808.0px;width:428.0px;height:1020.0px;background:#e3e8ec"></div>
<div class="f" style="left:3374.5px;top:1834.0px;width:403.4px;height:53.5px;background:#e3d5c2"></div>
<div class="f" style="left:3369.0px;top:1828.5px;width:403.4px;height:53.5px;background:#e3d5c2;box-shadow:inset 0 0 0 1px rgba(255,255,255,0.25);padding-left:5.5px;padding-top:3.3px"><span class="b" style="font-size:22.5px;line-height:1.11;">Á. TÉC. - Áreas de manutenção<br>e depósito geral</span></div>
<div class="f" style="left:3374.5px;top:1941.5px;width:403.4px;height:28.0px;background:#e3d5c2"></div>
<div class="f" style="left:3369.0px;top:1936.0px;width:403.4px;height:28.0px;background:#e3d5c2;box-shadow:inset 0 0 0 1px rgba(255,255,255,0.25);padding-left:5.5px;padding-top:3.3px"><span class="b" style="font-size:22.5px;line-height:1.11;">Á. TÉC. - Área de expurgo (lixo)</span></div>
<div class="f" style="left:3374.5px;top:2057.5px;width:403.4px;height:54.5px;background:#e3d5c2"></div>
<div class="f" style="left:3369.0px;top:2052.0px;width:403.4px;height:54.5px;background:#e3d5c2;box-shadow:inset 0 0 0 1px rgba(255,255,255,0.25);padding-left:5.5px;padding-top:3.3px"><span class="b" style="font-size:22.5px;line-height:1.11;">Á. TÉC. - Áreas técnicas e<br>equipamentos água</span></div>
<div class="f" style="left:3374.5px;top:2188.5px;width:403.4px;height:54.0px;background:#e3d5c2"></div>
<div class="f" style="left:3369.0px;top:2183.0px;width:403.4px;height:54.0px;background:#e3d5c2;box-shadow:inset 0 0 0 1px rgba(255,255,255,0.25);padding-left:5.5px;padding-top:3.3px"><span class="b" style="font-size:22.5px;line-height:1.11;">Á. TÉC. - Áreas técnicas e<br>equipamentos esgoto</span></div>
<div class="f" style="left:3374.5px;top:2296.5px;width:403.4px;height:54.0px;background:#e3d5c2"></div>
<div class="f" style="left:3369.0px;top:2291.0px;width:403.4px;height:54.0px;background:#e3d5c2;box-shadow:inset 0 0 0 1px rgba(255,255,255,0.25);padding-left:5.5px;padding-top:3.3px"><span class="b" style="font-size:22.5px;line-height:1.11;">Á. TÉC. - Áreas técnicas e<br>equipamentos caldeiras</span></div>
<div class="f" style="left:3374.5px;top:2413.5px;width:403.4px;height:54.0px;background:#e3d5c2"></div>
<div class="f" style="left:3369.0px;top:2408.0px;width:403.4px;height:54.0px;background:#e3d5c2;box-shadow:inset 0 0 0 1px rgba(255,255,255,0.25);padding-left:5.5px;padding-top:3.3px"><span class="b" style="font-size:22.5px;line-height:1.11;">Á. TÉC. - Áreas técnicas e<br>equipamentos ar condicionado</span></div>
<div class="f" style="left:3374.5px;top:2532.5px;width:403.4px;height:55.0px;background:#e3d5c2"></div>
<div class="f" style="left:3369.0px;top:2527.0px;width:403.4px;height:55.0px;background:#e3d5c2;box-shadow:inset 0 0 0 1px rgba(255,255,255,0.25);padding-left:5.5px;padding-top:3.3px"><span class="b" style="font-size:22.5px;line-height:1.11;">Á. TÉC. - Áreas técnicas e<br>equipamentos combustíveis</span></div>
<div class="f" style="left:3374.5px;top:2640.5px;width:403.4px;height:55.0px;background:#e3d5c2"></div>
<div class="f" style="left:3369.0px;top:2635.0px;width:403.4px;height:55.0px;background:#e3d5c2;box-shadow:inset 0 0 0 1px rgba(255,255,255,0.25);padding-left:5.5px;padding-top:3.3px"><span class="b" style="font-size:22.5px;line-height:1.11;">Á. TÉC. - Áreas técnicas e<br>equipamentos energia elétrica</span></div>
<div class="f" style="left:3374.5px;top:2757.5px;width:403.4px;height:55.0px;background:#e3d5c2"></div>
<div class="f" style="left:3369.0px;top:2752.0px;width:403.4px;height:55.0px;background:#e3d5c2;box-shadow:inset 0 0 0 1px rgba(255,255,255,0.25);padding-left:5.5px;padding-top:3.3px"><span class="b" style="font-size:22.5px;line-height:1.11;">Á. TÉC. - Áreas técnicas e<br>equipamentos eletrônicos</span></div>
<div class="f" style="left:3838.0px;top:2008.0px;width:375.0px;height:554.0px;background:#e3e8ec"></div>
<div class="f" style="left:3846.5px;top:2024.5px;width:362.5px;height:28.0px;background:#e3d5c2"></div>
<div class="f" style="left:3841.0px;top:2019.0px;width:362.5px;height:28.0px;background:#e3d5c2;box-shadow:inset 0 0 0 1px rgba(255,255,255,0.25);padding-left:5.5px;padding-top:3.3px"><span class="b" style="font-size:22.5px;line-height:1.11;">SERV. - Depósito de lixo</span></div>
<div class="f" style="left:3846.5px;top:2075.5px;width:362.5px;height:28.0px;background:#e3d5c2"></div>
<div class="f" style="left:3841.0px;top:2070.0px;width:362.5px;height:28.0px;background:#e3d5c2;box-shadow:inset 0 0 0 1px rgba(255,255,255,0.25);padding-left:5.5px;padding-top:3.3px"><span class="b" style="font-size:22.5px;line-height:1.11;">SERV. - Lixeira externa</span></div>
<div class="f" style="left:3848.5px;top:2131.5px;width:363.0px;height:54.0px;background:#e3d5c2"></div>
<div class="f" style="left:3843.0px;top:2126.0px;width:363.0px;height:54.0px;background:#e3d5c2;box-shadow:inset 0 0 0 1px rgba(255,255,255,0.25);padding-left:5.5px;padding-top:3.3px"><span class="b" style="font-size:22.5px;line-height:1.11;">SERV. - Sala de quadros<br>elétricos</span></div>
<div class="f" style="left:3848.5px;top:2201.5px;width:363.0px;height:54.0px;background:#e3d5c2"></div>
<div class="f" style="left:3843.0px;top:2196.0px;width:363.0px;height:54.0px;background:#e3d5c2;box-shadow:inset 0 0 0 1px rgba(255,255,255,0.25);padding-left:5.5px;padding-top:3.3px"><span class="b" style="font-size:22.5px;line-height:1.11;">SERV. - Serviços de<br>manutenção</span></div>
<div class="f" style="left:3848.5px;top:2279.5px;width:363.0px;height:54.0px;background:#e3d5c2"></div>
<div class="f" style="left:3843.0px;top:2274.0px;width:363.0px;height:54.0px;background:#e3d5c2;box-shadow:inset 0 0 0 1px rgba(255,255,255,0.25);padding-left:5.5px;padding-top:3.3px"><span class="b" style="font-size:22.5px;line-height:1.11;">SERV. - Área de<br>recebimento de insumos</span></div>
<div class="f" style="left:3848.5px;top:2369.5px;width:363.0px;height:28.0px;background:#e3d5c2"></div>
<div class="f" style="left:3843.0px;top:2364.0px;width:363.0px;height:28.0px;background:#e3d5c2;box-shadow:inset 0 0 0 1px rgba(255,255,255,0.25);padding-left:5.5px;padding-top:3.3px"><span class="b" style="font-size:22.5px;line-height:1.11;">SERV. - D.M.L.</span></div>
<div class="f" style="left:3844.0px;top:2431.5px;width:361.5px;height:28.0px;background:#e3d5c2"></div>
<div class="f" style="left:3838.5px;top:2426.0px;width:361.5px;height:28.0px;background:#e3d5c2;box-shadow:inset 0 0 0 1px rgba(255,255,255,0.25);padding-left:5.5px;padding-top:3.3px"><span class="b" style="font-size:22.5px;line-height:1.11;">SERV. - Almoxarifado</span></div>
<div class="f" style="left:3844.0px;top:2498.5px;width:361.5px;height:55.0px;background:#e3d5c2"></div>
<div class="f" style="left:3838.5px;top:2493.0px;width:361.5px;height:55.0px;background:#e3d5c2;box-shadow:inset 0 0 0 1px rgba(255,255,255,0.25);padding-left:5.5px;padding-top:3.3px"><span class="b" style="font-size:22.5px;line-height:1.11;">SERV. - Depósito de<br>bagagem</span></div>
<div class="f" style="left:3836.0px;top:2613.0px;width:376.0px;height:198.0px;background:#e3e8ec"></div>
<div class="f" style="left:3846.5px;top:2633.5px;width:362.0px;height:54.5px;background:#e3d5c2"></div>
<div class="f" style="left:3841.0px;top:2628.0px;width:362.0px;height:54.5px;background:#e3d5c2;box-shadow:inset 0 0 0 1px rgba(255,255,255,0.25);padding-left:5.5px;padding-top:3.3px"><span class="b" style="font-size:22.5px;line-height:1.11;">SERV. - Hall elevadores<br>serviço</span></div>
<div class="f" style="left:3846.5px;top:2710.5px;width:362.0px;height:29.0px;background:#e3d5c2"></div>
<div class="f" style="left:3841.0px;top:2705.0px;width:362.0px;height:29.0px;background:#e3d5c2;box-shadow:inset 0 0 0 1px rgba(255,255,255,0.25);padding-left:5.5px;padding-top:3.3px"><span class="b" style="font-size:22.5px;line-height:1.1;">SERV. - Elevadores serviço</span></div>
<div class="f" style="left:3846.5px;top:2766.5px;width:362.0px;height:29.0px;background:#e3d5c2"></div>
<div class="f" style="left:3841.0px;top:2761.0px;width:362.0px;height:29.0px;background:#e3d5c2;box-shadow:inset 0 0 0 1px rgba(255,255,255,0.25);padding-left:5.5px;padding-top:3.3px"><span class="b" style="font-size:22.5px;line-height:1.1;">SERV. - Escada serviço</span></div>
<div class="f" style="left:3846.5px;top:2867.5px;width:362.0px;height:55.0px;background:#e3d5c2"></div>
<div class="f" style="left:3841.0px;top:2862.0px;width:362.0px;height:55.0px;background:#e3d5c2;box-shadow:inset 0 0 0 1px rgba(255,255,255,0.25);padding-left:5.5px;padding-top:3.3px"><span class="b" style="font-size:22.5px;line-height:1.11;">SERV. - Refeitório<br>funcionários</span></div>
<div class="f" style="left:3846.5px;top:2979.5px;width:362.0px;height:29.0px;background:#e3d5c2"></div>
<div class="f" style="left:3841.0px;top:2974.0px;width:362.0px;height:29.0px;background:#e3d5c2;box-shadow:inset 0 0 0 1px rgba(255,255,255,0.25);padding-left:5.5px;padding-top:3.3px"><span class="b" style="font-size:22.5px;line-height:1.1;">SERV. - Sanitário/vestiário</span></div>
<div class="f" style="left:3395.5px;top:2956.0px;width:362.0px;height:54.5px;background:#e3d5c2"></div>
<div class="f" style="left:3390.0px;top:2950.5px;width:362.0px;height:54.5px;background:#e3d5c2;box-shadow:inset 0 0 0 1px rgba(255,255,255,0.25);padding-left:5.5px;padding-top:3.3px"><span class="b" style="font-size:22.5px;line-height:1.11;">ADM. - Controle de<br>funcionários</span></div>
<div class="t" style="left:3341px;width:300px;top:3085px;font-size:22px;color:#5a554f;text-align:center;white-space:nowrap;letter-spacing:0.4px;text-indent:0.4px">Acesso administrativo</div>
<div class="t" style="left:3595px;width:200px;top:3085px;font-size:22px;color:#5a554f;text-align:center;white-space:nowrap;letter-spacing:0.4px;text-indent:0.4px">Acesso serviço</div>
<div class="f" style="left:2941.0px;top:2381.0px;width:375.0px;height:430.0px;background:#e3e8ec"></div>
<div class="f" style="left:2954.2px;top:2403.5px;width:361.3px;height:28.6px;background:#e3d5c2"></div>
<div class="f" style="left:2948.7px;top:2398.0px;width:361.3px;height:28.6px;background:#e3d5c2;box-shadow:inset 0 0 0 1px rgba(255,255,255,0.25);padding-left:5.5px;padding-top:3.3px"><span class="b" style="font-size:22.5px;line-height:1.11;">ADM. - Sala diretoria</span></div>
<div class="f" style="left:2954.2px;top:2495.5px;width:361.3px;height:29.0px;background:#e3d5c2"></div>
<div class="f" style="left:2948.7px;top:2490.0px;width:361.3px;height:29.0px;background:#e3d5c2;box-shadow:inset 0 0 0 1px rgba(255,255,255,0.25);padding-left:5.5px;padding-top:3.3px"><span class="b" style="font-size:22.5px;line-height:1.11;">ADM. - Sala de reunião</span></div>
<div class="f" style="left:2954.2px;top:2575.5px;width:361.3px;height:28.5px;background:#e3d5c2"></div>
<div class="f" style="left:2948.7px;top:2570.0px;width:361.3px;height:28.5px;background:#e3d5c2;box-shadow:inset 0 0 0 1px rgba(255,255,255,0.25);padding-left:5.5px;padding-top:3.3px"><span class="b" style="font-size:22.5px;line-height:1.11;">ADM. - Sala de arquivos</span></div>
<div class="f" style="left:2954.2px;top:2663.0px;width:361.3px;height:55.5px;background:#e3d5c2"></div>
<div class="f" style="left:2948.7px;top:2657.5px;width:361.3px;height:55.5px;background:#e3d5c2;box-shadow:inset 0 0 0 1px rgba(255,255,255,0.25);padding-left:5.5px;padding-top:3.3px"><span class="b" style="font-size:22.5px;line-height:1.11;">ADM. - Sala da<br>administração</span></div>
<div class="f" style="left:2954.2px;top:2775.0px;width:361.3px;height:29.2px;background:#e3d5c2"></div>
<div class="f" style="left:2948.7px;top:2769.5px;width:361.3px;height:29.2px;background:#e3d5c2;box-shadow:inset 0 0 0 1px rgba(255,255,255,0.25);padding-left:5.5px;padding-top:3.3px"><span class="b" style="font-size:22.5px;line-height:1.11;">ADM. - Sala/escritório geral</span></div>
<div class="f" style="left:2954.2px;top:2858.2px;width:361.3px;height:54.3px;background:#e3d5c2"></div>
<div class="f" style="left:2948.7px;top:2852.7px;width:361.3px;height:54.3px;background:#e3d5c2;box-shadow:inset 0 0 0 1px rgba(255,255,255,0.25);padding-left:5.5px;padding-top:3.3px"><span class="b" style="font-size:22.5px;line-height:1.11;">ADM. - Refeitório<br>funcionários</span></div>
<div class="f" style="left:2954.2px;top:2968.5px;width:361.3px;height:28.0px;background:#e3d5c2"></div>
<div class="f" style="left:2948.7px;top:2963.0px;width:361.3px;height:28.0px;background:#e3d5c2;box-shadow:inset 0 0 0 1px rgba(255,255,255,0.25);padding-left:5.5px;padding-top:3.3px"><span class="b" style="font-size:22.5px;line-height:1.1;">ADM. - Sanitário/vestiário</span></div>
<div class="f" style="left:2368.5px;top:2850.5px;width:362.0px;height:54.6px;background:#e3d5c2"></div>
<div class="f" style="left:2363.0px;top:2845.0px;width:362.0px;height:54.6px;background:#e3d5c2;box-shadow:inset 0 0 0 1px rgba(255,255,255,0.25);padding-left:5.5px;padding-top:3.3px"><span class="b" style="font-size:22.5px;line-height:1.11;">ADM. - Sala de conforto<br>motorista</span></div>
<div class="f" style="left:2368.5px;top:2953.5px;width:348.7px;height:54.5px;background:#e3d5c2"></div>
<div class="f" style="left:2363.0px;top:2948.0px;width:348.7px;height:54.5px;background:#e3d5c2;box-shadow:inset 0 0 0 1px rgba(255,255,255,0.25);padding-left:5.5px;padding-top:3.3px"><span class="b" style="font-size:22.5px;line-height:1.11;">ADM. - Estacionamento<br>funcionários</span></div>
<div class="t" style="left:2440px;width:200px;top:3058.0px;font-size:22px;color:#5a554f;text-align:center;white-space:nowrap;letter-spacing:0.4px;text-indent:0.4px">Acesso</div>
<div class="t" style="left:2440px;width:200px;top:3086.7px;font-size:22px;color:#5a554f;text-align:center;white-space:nowrap;letter-spacing:0.4px;text-indent:0.4px">estacionamento</div>
<div class="t" style="left:2440px;width:200px;top:3115.4px;font-size:22px;color:#5a554f;text-align:center;white-space:nowrap;letter-spacing:0.4px;text-indent:0.4px">serviço</div>
<div class="t" style="left:4346.7px;top:768.5px;font-size:37px;line-height:1;transform-origin:0 0;transform:rotate(-90deg) scaleX(1);white-space:nowrap;letter-spacing:1.7px;color:#e3eae9;">Curso de Arquitetura e Urbanismo</div>
<div class="t" style="left:4421.7px;top:712.0px;font-size:37px;line-height:1;transform-origin:0 0;transform:rotate(-90deg) scaleX(1);white-space:nowrap;letter-spacing:1.5px;color:#e3eae9;">8º Período, Turma B - Matutino</div>
<div class="t" style="left:4326.1px;top:1643.0px;font-size:53px;line-height:1;transform-origin:0 0;transform:rotate(-90deg) scaleX(1);white-space:nowrap;letter-spacing:-1.3px;color:#ffffff;font-weight:bold">ANTEPROJETO</div>
<div class="t" style="left:4423.7px;top:1876.0px;font-size:37px;line-height:1;transform-origin:0 0;transform:rotate(-90deg) scaleX(1);white-space:nowrap;letter-spacing:1.47px;color:#e3eae9;">Disciplina | Atelier de Arq.: Equipamento Urbano</div>
<div class="t" style="left:4309.1px;top:2858.0px;font-size:40px;line-height:1;transform-origin:0 0;transform:rotate(-90deg) scaleX(1);white-space:nowrap;letter-spacing:0.45px;color:#e3eae9;">Aluna | <b style="color:#fff">Briani Helena de Souza Britto</b></div>
<div class="t" style="left:4367.1px;top:2858.0px;font-size:40px;line-height:1;transform-origin:0 0;transform:rotate(-90deg) scaleX(1);white-space:nowrap;letter-spacing:0.5px;color:#e3eae9;">Aluna | <b style="color:#fff">Gabriela do Carmo Takahashi</b></div>
<div class="t" style="left:4431.7px;top:2858.0px;font-size:37px;line-height:1;transform-origin:0 0;transform:rotate(-90deg) scaleX(1);white-space:nowrap;letter-spacing:1.5px;color:#e3eae9;">Orientadores | Marcolla, Oba e David</div>
<div class="t" style="left:4426.4px;top:3097.0px;font-size:48px;line-height:1;transform-origin:0 0;transform:rotate(-90deg) scaleX(0.89);white-space:nowrap;letter-spacing:0px;color:#e3eae9;">PUCPR</div></div><svg width="4494" height="3179" viewBox="0 0 4494 3179"><path d="M1108.0 1500.0A309 215 0 0 1 1052.4 1623.0L1052.4 1669.0A309 215 0 0 0 1108.0 1546.0Z" fill="#a88a89"/>
<path d="M1052.4 1623.0A309 215 0 0 1 754.9 1712.8L754.9 1758.8A309 215 0 0 0 1052.4 1669.0Z" fill="#7d7196"/>
<path d="M754.9 1712.8A309 215 0 0 1 490.0 1500.0L490.0 1546.0A309 215 0 0 0 754.9 1758.8Z" fill="#419ea3"/>
<path d="M799 1500L799.0 1285.0A309 215 0 0 1 1052.4 1623.0Z" fill="#e8c1c2"/>
<path d="M799 1500L1052.4 1623.0A309 215 0 0 1 754.9 1712.8Z" fill="#b39fd8"/>
<path d="M799 1500L754.9 1712.8A309 215 0 0 1 539.9 1382.9Z" fill="#5ee1e6"/>
<path d="M799 1500L539.9 1382.9A309 215 0 0 1 799.0 1285.0Z" fill="#e8b887"/>
<path d="M799 1500L799.0 1285.0" stroke="#ffffff" stroke-opacity="0.5" stroke-width="1.5"/>
<path d="M210 1320L659 1320" stroke="#7f7f7f" stroke-width="3"/>
<circle cx="659" cy="1320" r="5.5" fill="#8c8c8c"/>
<path d="M1058 1405L1388 1405" stroke="#7f7f7f" stroke-width="3"/>
<circle cx="1058" cy="1405" r="5.5" fill="#8c8c8c"/>
<path d="M210 1584L532 1584" stroke="#7f7f7f" stroke-width="3"/>
<circle cx="532" cy="1584" r="5.5" fill="#8c8c8c"/>
<path d="M916 1688L1388 1688" stroke="#7f7f7f" stroke-width="3"/>
<circle cx="916" cy="1688" r="5.5" fill="#8c8c8c"/>
<path d="M1617 1684L2585 1684L2633 1637L1664 1637Z" fill="#efefef"/>
<path d="M1664 1601.2L2633 1601.2" stroke="#ececec" stroke-width="2"/>
<path d="M1664 1565.5L2633 1565.5" stroke="#ececec" stroke-width="2"/>
<path d="M1664 1529.8L2633 1529.8" stroke="#d9d9d9" stroke-width="2.5"/>
<path d="M1664 1494.0L2633 1494.0" stroke="#ececec" stroke-width="2"/>
<path d="M1664 1458.2L2633 1458.2" stroke="#ececec" stroke-width="2"/>
<path d="M1664 1422.5L2633 1422.5" stroke="#d9d9d9" stroke-width="2.5"/>
<path d="M1664 1386.8L2633 1386.8" stroke="#ececec" stroke-width="2"/>
<path d="M1664 1351.0L2633 1351.0" stroke="#ececec" stroke-width="2"/>
<path d="M1664 1315.2L2633 1315.2" stroke="#d9d9d9" stroke-width="2.5"/>
<path d="M1664 1279.5L2633 1279.5" stroke="#ececec" stroke-width="2"/>
<path d="M1664 1243.8L2633 1243.8" stroke="#ececec" stroke-width="2"/>
<path d="M1664 1208.0L2633 1208.0" stroke="#d9d9d9" stroke-width="2.5"/>
<path d="M1664 1637L2633 1637" stroke="#595959" stroke-width="3"/>
<path d="M1617 1208L1617 1684" stroke="#404040" stroke-width="3"/>
<path d="M1604 1637.0L1629 1637.0" stroke="#404040" stroke-width="3"/>
<path d="M1610 1601.2L1623 1601.2" stroke="#404040" stroke-width="3"/>
<path d="M1610 1565.5L1623 1565.5" stroke="#404040" stroke-width="3"/>
<path d="M1604 1529.8L1629 1529.8" stroke="#404040" stroke-width="3"/>
<path d="M1610 1494.0L1623 1494.0" stroke="#404040" stroke-width="3"/>
<path d="M1610 1458.2L1623 1458.2" stroke="#404040" stroke-width="3"/>
<path d="M1604 1422.5L1629 1422.5" stroke="#404040" stroke-width="3"/>
<path d="M1610 1386.8L1623 1386.8" stroke="#404040" stroke-width="3"/>
<path d="M1610 1351.0L1623 1351.0" stroke="#404040" stroke-width="3"/>
<path d="M1604 1315.2L1629 1315.2" stroke="#404040" stroke-width="3"/>
<path d="M1610 1279.5L1623 1279.5" stroke="#404040" stroke-width="3"/>
<path d="M1610 1243.8L1623 1243.8" stroke="#404040" stroke-width="3"/>
<path d="M1604 1208.0L1629 1208.0" stroke="#404040" stroke-width="3"/>
<path d="M1833 1301L1870 1264L1870 1636L1833 1673Z" fill="#919191"/>
<path d="M1681 1301L1718 1264L1870 1264L1833 1301Z" fill="#d4d4d4"/>
<path d="M1681 1301L1833 1301L1833 1673L1681 1673Z" fill="#d0d0d0"/>
<path d="M2066 1487L2103 1450L2103 1636L2066 1673Z" fill="#7f7f7f"/>
<path d="M1914 1487L1951 1450L2103 1450L2066 1487Z" fill="#d3d3d3"/>
<path d="M1914 1487L2066 1487L2066 1673L1914 1673Z" fill="#b3b3b3"/>
<path d="M2300 1332L2337 1295L2337 1636L2300 1673Z" fill="#888888"/>
<path d="M2148 1332L2185 1295L2337 1295L2300 1332Z" fill="#d3d3d3"/>
<path d="M2148 1332L2300 1332L2300 1673L2148 1673Z" fill="#bdbdbd"/>
<path d="M2533 1506L2570 1469L2570 1636L2533 1673Z" fill="#8f8f8f"/>
<path d="M2381 1506L2418 1469L2570 1469L2533 1506Z" fill="#d3d3d3"/>
<path d="M2381 1506L2533 1506L2533 1673L2381 1673Z" fill="#c9c9c9"/>
<path d="M406.0 2143.0L406.0 2213.0M394.0 2197.0L406.0 2213.0L418.0 2197.0" stroke="#26489a" stroke-width="7.4" fill="none" stroke-linecap="round" stroke-linejoin="round"/>
<path d="M406.0 2345.0L406.0 2415.0M394.0 2399.0L406.0 2415.0L418.0 2399.0" stroke="#26489a" stroke-width="7.4" fill="none" stroke-linecap="round" stroke-linejoin="round"/>
<path d="M406.0 2549.0L406.0 2619.0M394.0 2603.0L406.0 2619.0L418.0 2603.0" stroke="#26489a" stroke-width="7.4" fill="none" stroke-linecap="round" stroke-linejoin="round"/>
<path d="M406.0 2751.0L406.0 2821.0M394.0 2805.0L406.0 2821.0L418.0 2805.0" stroke="#26489a" stroke-width="7.4" fill="none" stroke-linecap="round" stroke-linejoin="round"/>
<path d="M406.0 3031.0L406.0 2958.0M418.0 2974.0L406.0 2958.0L394.0 2974.0" stroke="#e45d5e" stroke-width="7.4" fill="none" stroke-linecap="round" stroke-linejoin="round"/>
<path d="M726.0 2484.0L653.0 2484.0M669.0 2472.0L653.0 2484.0L669.0 2496.0" stroke="#e3c655" stroke-width="7.4" fill="none" stroke-linecap="round" stroke-linejoin="round"/>
<path d="M964.0 2619.0L964.0 2549.0M976.0 2565.0L964.0 2549.0L952.0 2565.0" stroke="#e3c655" stroke-width="7.4" fill="none" stroke-linecap="round" stroke-linejoin="round"/>
<path d="M1384.5 2717.0L1418.5 2775.0L1350.5 2775.0Z" fill="#9b2121"/>
<path d="M1384.5 2817.0L1418.5 2874.0L1350.5 2874.0Z" fill="#26489a"/>
<path d="M1386.0 2906.0L1419.0 2962.0L1353.0 2962.0Z" fill="#e3c655"/>
<path d="M1440.0 2747.0L1487.5 2747.0" stroke="#e45d5e" stroke-width="9" stroke-linecap="round"/>
<path d="M1506.5 2747.0L1487.5 2763.5L1487.5 2730.5Z" fill="#e45d5e" stroke="#e45d5e" stroke-width="5.0" stroke-linejoin="round"/>
<path d="M1451.0 2849.0L1498.5 2849.0" stroke="#26489a" stroke-width="9" stroke-linecap="round"/>
<path d="M1517.5 2849.0L1498.5 2865.5L1498.5 2832.5Z" fill="#26489a" stroke="#26489a" stroke-width="5.0" stroke-linejoin="round"/>
<path d="M1444.0 2943.0L1490.5 2943.0" stroke="#e3c655" stroke-width="9" stroke-linecap="round"/>
<path d="M1509.5 2943.0L1490.5 2959.5L1490.5 2926.5Z" fill="#e3c655" stroke="#e3c655" stroke-width="5.0" stroke-linejoin="round"/>
<path d="M3053 367L3085 391L3053 414Z" fill="#9b2121"/>
<path d="M3329.0 367.0L3329.0 354.5" stroke="#e45d5e" stroke-width="6.5" stroke-linecap="round"/>
<path d="M3329.0 342.5L3339.0 354.5L3319.0 354.5Z" fill="#e45d5e" stroke="#e45d5e" stroke-width="5.0" stroke-linejoin="round"/>
<path d="M3329.0 437.0L3329.0 423.5" stroke="#e45d5e" stroke-width="6.5" stroke-linecap="round"/>
<path d="M3329.0 411.5L3339.0 423.5L3319.0 423.5Z" fill="#e45d5e" stroke="#e45d5e" stroke-width="5.0" stroke-linejoin="round"/>
<path d="M3354.0 437.0L3354.0 423.5" stroke="#e3c655" stroke-width="6.5" stroke-linecap="round"/>
<path d="M3354.0 411.5L3364.0 423.5L3344.0 423.5Z" fill="#e3c655" stroke="#e3c655" stroke-width="5.0" stroke-linejoin="round"/>
<path d="M3332.0 552.0L3332.0 538.5" stroke="#26489a" stroke-width="6.5" stroke-linecap="round"/>
<path d="M3332.0 526.5L3342.0 538.5L3322.0 538.5Z" fill="#26489a" stroke="#26489a" stroke-width="5.0" stroke-linejoin="round"/>
<path d="M3354.0 552.0L3354.0 538.5" stroke="#e3c655" stroke-width="6.5" stroke-linecap="round"/>
<path d="M3354.0 526.5L3364.0 538.5L3344.0 538.5Z" fill="#e3c655" stroke="#e3c655" stroke-width="5.0" stroke-linejoin="round"/>
<path d="M3550.0 390.0L3591.5 390.0" stroke="#e45d5e" stroke-width="6.5" stroke-linecap="round"/>
<path d="M3603.5 390.0L3591.5 400.0L3591.5 380.0Z" fill="#e45d5e" stroke="#e45d5e" stroke-width="5.0" stroke-linejoin="round"/>
<path d="M3550.0 481.0L3591.5 481.0" stroke="#e45d5e" stroke-width="6.5" stroke-linecap="round"/>
<path d="M3603.5 481.0L3591.5 491.0L3591.5 471.0Z" fill="#e45d5e" stroke="#e45d5e" stroke-width="5.0" stroke-linejoin="round"/>
<path d="M4090.0 525.0L4015.7 433.4" stroke="#26489a" stroke-width="7" stroke-linecap="round"/>
<path d="M4005.6 420.9L4023.4 427.1L4007.9 439.7Z" fill="#26489a" stroke="#26489a" stroke-width="5.0" stroke-linejoin="round"/>
<path d="M4130.0 523.0L4035.2 406.4" stroke="#e3c655" stroke-width="7" stroke-linecap="round"/>
<path d="M4025.1 393.9L4042.9 400.0L4027.4 412.7Z" fill="#e3c655" stroke="#e3c655" stroke-width="5.0" stroke-linejoin="round"/>
<path d="M4022.0 621.0L4022.0 583.5" stroke="#26489a" stroke-width="6.5" stroke-linecap="round"/>
<path d="M4022.0 571.5L4032.0 583.5L4012.0 583.5Z" fill="#26489a" stroke="#26489a" stroke-width="5.0" stroke-linejoin="round"/>
<path d="M4048.0 621.0L4048.0 583.5" stroke="#e3c655" stroke-width="6.5" stroke-linecap="round"/>
<path d="M4048.0 571.5L4058.0 583.5L4038.0 583.5Z" fill="#e3c655" stroke="#e3c655" stroke-width="5.0" stroke-linejoin="round"/>
<path d="M2990.0 1430.0L3082.0 1489.0M3062.1 1490.5L3082.0 1489.0L3075.0 1470.3" stroke="#26489a" stroke-width="7.4" fill="none" stroke-linecap="round" stroke-linejoin="round"/>
<path d="M2993.0 1514.0L3084.0 1514.0M3068.0 1526.0L3084.0 1514.0L3068.0 1502.0" stroke="#26489a" stroke-width="7.4" fill="none" stroke-linecap="round" stroke-linejoin="round"/>
<path d="M2951.0 1598.0L3091.0 1535.0M3081.3 1552.5L3091.0 1535.0L3071.5 1530.6" stroke="#26489a" stroke-width="7.4" fill="none" stroke-linecap="round" stroke-linejoin="round"/>
<path d="M3380.0 1511.0L3518.0 1616.0M3498.0 1615.9L3518.0 1616.0L3512.5 1596.8" stroke="#26489a" stroke-width="7.4" fill="none" stroke-linecap="round" stroke-linejoin="round"/>
<path d="M3231.0 1613.0L3231.0 1550.0M3243.0 1566.0L3231.0 1550.0L3219.0 1566.0" stroke="#26489a" stroke-width="7.4" fill="none" stroke-linecap="round" stroke-linejoin="round"/>
<path d="M3231.0 1681.0L3231.0 1669.5" stroke="#26489a" stroke-width="6.5" stroke-linecap="round"/>
<path d="M3231.0 1659.5L3241.0 1669.5L3221.0 1669.5Z" fill="#26489a" stroke="#26489a" stroke-width="5.0" stroke-linejoin="round"/>
<path d="M3634.0 1579.0L3634.0 1515.0M3646.0 1531.0L3634.0 1515.0L3622.0 1531.0" stroke="#26489a" stroke-width="7.4" fill="none" stroke-linecap="round" stroke-linejoin="round"/>
<path d="M3634.0 1467.0L3634.0 1423.0M3646.0 1439.0L3634.0 1423.0L3622.0 1439.0" stroke="#26489a" stroke-width="7.4" fill="none" stroke-linecap="round" stroke-linejoin="round"/>
<path d="M3660.0 1467.0L3660.0 1423.0M3672.0 1439.0L3660.0 1423.0L3648.0 1439.0" stroke="#e3c655" stroke-width="7.4" fill="none" stroke-linecap="round" stroke-linejoin="round"/>
<path d="M3634.0 1345.0L3634.0 1283.0M3646.0 1299.0L3634.0 1283.0L3622.0 1299.0" stroke="#26489a" stroke-width="7.4" fill="none" stroke-linecap="round" stroke-linejoin="round"/>
<path d="M3660.0 1345.0L3660.0 1283.0M3672.0 1299.0L3660.0 1283.0L3648.0 1299.0" stroke="#e3c655" stroke-width="7.4" fill="none" stroke-linecap="round" stroke-linejoin="round"/>
<path d="M2834.0 1640.0L2858.0 1671.0L2810.0 1671.0Z" fill="#26489a"/>
<path d="M3640.0 1668.0L3664.0 1699.0L3616.0 1699.0Z" fill="#26489a"/>
<path d="M3847.0 1383.0L3791.0 1383.0M3807.0 1371.0L3791.0 1383.0L3807.0 1395.0" stroke="#26489a" stroke-width="7.4" fill="none" stroke-linecap="round" stroke-linejoin="round"/>
<path d="M4022.0 1494.0L4022.0 1428.0M4034.0 1444.0L4022.0 1428.0L4010.0 1444.0" stroke="#e3c655" stroke-width="7.4" fill="none" stroke-linecap="round" stroke-linejoin="round"/>
<path d="M4022.0 1494.0L4022.0 1856.0M4010.0 1840.0L4022.0 1856.0L4034.0 1840.0" stroke="#e3c655" stroke-width="7.4" fill="none" stroke-linecap="round" stroke-linejoin="round"/>
<path d="M4018.0 1494.0L3809.0 1494.0M3825.0 1482.0L3809.0 1494.0L3825.0 1506.0" stroke="#e3c655" stroke-width="7.4" fill="none" stroke-linecap="round" stroke-linejoin="round"/>
<path d="M4021.0 1353.0L4021.0 1292.0M4033.0 1308.0L4021.0 1292.0L4009.0 1308.0" stroke="#26489a" stroke-width="7.4" fill="none" stroke-linecap="round" stroke-linejoin="round"/>
<path d="M4054.0 1353.0L4054.0 1292.0M4066.0 1308.0L4054.0 1292.0L4042.0 1308.0" stroke="#e3c655" stroke-width="7.4" fill="none" stroke-linecap="round" stroke-linejoin="round"/>
<path d="M3579.0 2936.0L3581.0 2836.0M3592.7 2852.2L3581.0 2836.0L3568.7 2851.8" stroke="#e3c655" stroke-width="7.4" fill="none" stroke-linecap="round" stroke-linejoin="round"/>
<path d="M3340.0 2985.0L3363.5 2985.0" stroke="#e3c655" stroke-width="6.5" stroke-linecap="round"/>
<path d="M3375.5 2985.0L3363.5 2995.0L3363.5 2975.0Z" fill="#e3c655" stroke="#e3c655" stroke-width="5.0" stroke-linejoin="round"/>
<path d="M3789.0 2985.0L3813.5 2985.0" stroke="#e3c655" stroke-width="6.5" stroke-linecap="round"/>
<path d="M3825.5 2985.0L3813.5 2995.0L3813.5 2975.0Z" fill="#e3c655" stroke="#e3c655" stroke-width="5.0" stroke-linejoin="round"/>
<path d="M4025.5 2966.0L4025.5 2942.5" stroke="#e3c655" stroke-width="6.5" stroke-linecap="round"/>
<path d="M4025.5 2930.5L4035.5 2942.5L4015.5 2942.5Z" fill="#e3c655" stroke="#e3c655" stroke-width="5.0" stroke-linejoin="round"/>
<path d="M4021.0 2854.0L4021.0 2830.5" stroke="#e3c655" stroke-width="6.5" stroke-linecap="round"/>
<path d="M4021.0 2818.5L4031.0 2830.5L4011.0 2830.5Z" fill="#e3c655" stroke="#e3c655" stroke-width="5.0" stroke-linejoin="round"/>
<path d="M4025.5 2605.0L4025.5 2582.5" stroke="#e3c655" stroke-width="6.5" stroke-linecap="round"/>
<path d="M4025.5 2570.5L4035.5 2582.5L4015.5 2582.5Z" fill="#e3c655" stroke="#e3c655" stroke-width="5.0" stroke-linejoin="round"/>
<path d="M3491.0 3052.0L3515.0 3084.0L3467.0 3084.0Z" fill="#e3c655"/>
<path d="M3695.5 3052.0L3719.5 3084.0L3671.5 3084.0Z" fill="#e3c655"/>
<path d="M2750.0 2978.0L2910.5 2978.0" stroke="#e3c655" stroke-width="6.5" stroke-linecap="round"/>
<path d="M2922.5 2978.0L2910.5 2988.0L2910.5 2968.0Z" fill="#e3c655" stroke="#e3c655" stroke-width="5.0" stroke-linejoin="round"/>
<path d="M2551.0 2944.0L2551.0 2906.0M2562.0 2918.0L2551.0 2906.0L2540.0 2918.0" stroke="#e3c655" stroke-width="6.5" fill="none" stroke-linecap="round" stroke-linejoin="round"/>
<path d="M3136.0 2956.0L3136.0 2919.0M3147.0 2931.0L3136.0 2919.0L3125.0 2931.0" stroke="#e3c655" stroke-width="6.5" fill="none" stroke-linecap="round" stroke-linejoin="round"/>
<path d="M3132.0 2849.0L3132.0 2812.0M3143.0 2824.0L3132.0 2812.0L3121.0 2824.0" stroke="#e3c655" stroke-width="6.5" fill="none" stroke-linecap="round" stroke-linejoin="round"/>
<path d="M2540.0 3027.0L2564.0 3058.0L2516.0 3058.0Z" fill="#e3c655"/>
<path d="M4479 2948L4479 3096" stroke="#e3eae9" stroke-width="1.6"/>
<g stroke="#eef3f2" stroke-width="1.8" fill="none" stroke-linecap="round" stroke-linejoin="round"><path d="M4331 2981L4372 3057M4331 3059L4372 2983"/><rect x="4327" y="2977" width="14" height="11" transform="rotate(-60 4334 2982)"/><rect x="4327" y="3052" width="14" height="11" transform="rotate(60 4334 3057)"/><circle cx="4366" cy="2980" r="6"/><circle cx="4375" cy="2986" r="6"/><circle cx="4366" cy="3060" r="6"/><circle cx="4375" cy="3054" r="6"/><path d="M4349 3002Q4318 3006 4311 3022Q4318 3039 4349 3043"/><path d="M4322 3007Q4328 3022 4322 3037M4333 3004Q4339 3022 4333 3040M4342 3003Q4347 3022 4342 3042"/><path d="M4311 3022L4302 3022M4305 3017L4305 3027"/><path d="M4349 2998L4375 2998A24.5 24.5 0 0 1 4375 3047L4349 3047Z" stroke-width="2"/><path d="M4389 2990A40 40 0 0 1 4389 3055" stroke-dasharray="2 2" stroke-width="1.5"/></g>
<path d="M4361 3002L4381 3002L4391 3022L4381 3042L4361 3042L4371 3022Z" fill="#eef3f2"/>
<path d="M4354 3012L4364 3012L4369 3022L4364 3032L4354 3032L4359 3022Z" fill="#eef3f2"/></svg></body></html>
